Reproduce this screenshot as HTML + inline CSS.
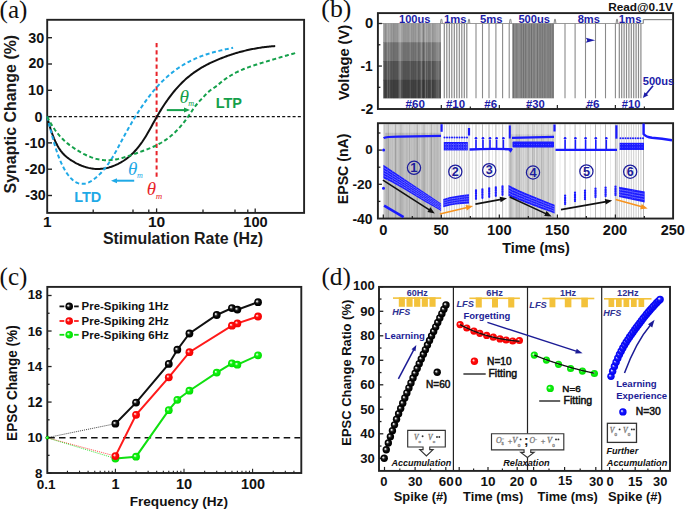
<!DOCTYPE html>
<html><head><meta charset="utf-8"><style>
html,body{margin:0;padding:0;background:#fff;width:685px;height:509px;overflow:hidden}
svg{display:block}
</style></head><body>
<svg xmlns="http://www.w3.org/2000/svg" width="685" height="509" viewBox="0 0 685 509">
<rect width="685" height="509" fill="#fff"/>
<defs>
<pattern id="spk" x="0" y="0" width="2.4" height="2.7" patternUnits="userSpaceOnUse"><circle cx="1.2" cy="1.35" r="0.45" fill="#a8a8ff"/></pattern>
<radialGradient id="gk" cx="0.5" cy="0.5" r="0.5" fx="0.34" fy="0.36"><stop offset="0" stop-color="#f4f4f4"/><stop offset="0.16" stop-color="#cfcfcf"/><stop offset="0.38" stop-color="#2a2a2a"/><stop offset="0.65" stop-color="#050505"/><stop offset="1" stop-color="#000"/></radialGradient>
<radialGradient id="gr" cx="0.5" cy="0.5" r="0.5" fx="0.34" fy="0.36"><stop offset="0" stop-color="#fff0f0"/><stop offset="0.16" stop-color="#ffb8b8"/><stop offset="0.4" stop-color="#ff1010"/><stop offset="1" stop-color="#f40000"/></radialGradient>
<radialGradient id="gg" cx="0.5" cy="0.5" r="0.5" fx="0.34" fy="0.36"><stop offset="0" stop-color="#f0fff0"/><stop offset="0.16" stop-color="#b8ffb8"/><stop offset="0.4" stop-color="#14f014"/><stop offset="1" stop-color="#00e000"/></radialGradient>
<radialGradient id="gb" cx="0.5" cy="0.5" r="0.5" fx="0.34" fy="0.36"><stop offset="0" stop-color="#f0f0ff"/><stop offset="0.16" stop-color="#b8b8ff"/><stop offset="0.4" stop-color="#1818ff"/><stop offset="1" stop-color="#0000ee"/></radialGradient>
</defs>
<text x="-0.43" y="18.14" font-family='"Liberation Serif", serif' font-size="25.38" font-weight="normal" font-style="normal" fill="#111" textLength="27.86" lengthAdjust="spacingAndGlyphs">(a)</text>
<rect x="47.20" y="19.80" width="256.90" height="193.10" fill="none" stroke="#222" stroke-width="1.9" />
<line x1="47.20" y1="37.70" x2="52.00" y2="37.70" stroke="#222" stroke-width="1.4" />
<line x1="47.20" y1="64.00" x2="52.00" y2="64.00" stroke="#222" stroke-width="1.4" />
<line x1="47.20" y1="90.30" x2="52.00" y2="90.30" stroke="#222" stroke-width="1.4" />
<line x1="47.20" y1="116.60" x2="52.00" y2="116.60" stroke="#222" stroke-width="1.4" />
<line x1="47.20" y1="142.90" x2="52.00" y2="142.90" stroke="#222" stroke-width="1.4" />
<line x1="47.20" y1="169.20" x2="52.00" y2="169.20" stroke="#222" stroke-width="1.4" />
<line x1="47.20" y1="195.50" x2="52.00" y2="195.50" stroke="#222" stroke-width="1.4" />
<text x="28.24" y="42.96" font-family='"Liberation Sans", sans-serif' font-size="14.23" font-weight="bold" font-style="normal" fill="#111" textLength="15.97" lengthAdjust="spacingAndGlyphs">30</text>
<text x="28.51" y="68.46" font-family='"Liberation Sans", sans-serif' font-size="13.80" font-weight="bold" font-style="normal" fill="#111" textLength="15.69" lengthAdjust="spacingAndGlyphs">20</text>
<text x="28.04" y="95.36" font-family='"Liberation Sans", sans-serif' font-size="13.94" font-weight="bold" font-style="normal" fill="#111" textLength="15.97" lengthAdjust="spacingAndGlyphs">10</text>
<text x="34.46" y="122.06" font-family='"Liberation Sans", sans-serif' font-size="14.38" font-weight="bold" font-style="normal" fill="#111">0</text>
<text x="24.79" y="147.95" font-family='"Liberation Sans", sans-serif' font-size="14.34" font-weight="bold" font-style="normal" fill="#111">-10</text>
<text x="24.74" y="174.02" font-family='"Liberation Sans", sans-serif' font-size="14.41" font-weight="bold" font-style="normal" fill="#111">-20</text>
<text x="25.22" y="200.01" font-family='"Liberation Sans", sans-serif' font-size="14.23" font-weight="bold" font-style="normal" fill="#111">-30</text>
<line x1="93.20" y1="212.90" x2="93.20" y2="209.40" stroke="#222" stroke-width="1.3" />
<line x1="133.00" y1="212.90" x2="133.00" y2="209.40" stroke="#222" stroke-width="1.3" />
<line x1="148.80" y1="212.90" x2="148.80" y2="209.40" stroke="#222" stroke-width="1.3" />
<line x1="203.00" y1="212.90" x2="203.00" y2="209.40" stroke="#222" stroke-width="1.3" />
<line x1="235.00" y1="212.90" x2="235.00" y2="209.40" stroke="#222" stroke-width="1.3" />
<line x1="247.80" y1="212.90" x2="247.80" y2="209.40" stroke="#222" stroke-width="1.3" />
<line x1="156.60" y1="212.90" x2="156.60" y2="208.40" stroke="#222" stroke-width="1.3" />
<line x1="255.20" y1="212.90" x2="255.20" y2="208.40" stroke="#222" stroke-width="1.3" />
<text x="42.92" y="227.00" font-family='"Liberation Sans", sans-serif' font-size="15.36" font-weight="bold" font-style="normal" fill="#111">1</text>
<text x="147.97" y="227.45" font-family='"Liberation Sans", sans-serif' font-size="15.07" font-weight="bold" font-style="normal" fill="#111" textLength="17.29" lengthAdjust="spacingAndGlyphs">10</text>
<text x="243.32" y="227.45" font-family='"Liberation Sans", sans-serif' font-size="15.07" font-weight="bold" font-style="normal" fill="#111" textLength="24.41" lengthAdjust="spacingAndGlyphs">100</text>
<text x="102.92" y="244.11" font-family='"Liberation Sans", sans-serif' font-size="15.94" font-weight="bold" font-style="normal" fill="#1a1a1a">Stimulation Rate (Hz)</text>
<text x="0" y="0" transform="translate(15.71,193.48) rotate(-90)" font-family='"Liberation Sans", sans-serif' font-size="15.96" font-weight="bold" font-style="normal" fill="#1a1a1a">Synaptic Change (%)</text>
<line x1="48.20" y1="116.60" x2="303.10" y2="116.60" stroke="#111" stroke-width="1.1" stroke-dasharray="3,2.2"/>
<line x1="156.60" y1="43.00" x2="156.60" y2="179.60" stroke="#e8232a" stroke-width="2" stroke-dasharray="4.2,3"/>
<path d="M47.20,116.64 L48.35,121.15 L49.49,125.30 L50.64,129.09 L51.78,132.56 L52.93,135.73 L54.07,138.61 L55.22,141.22 L56.37,143.59 L57.51,145.75 L58.66,147.69 L59.80,149.46 L60.95,151.05 L62.09,152.49 L63.24,153.79 L64.39,154.97 L65.53,156.04 L66.68,157.02 L67.82,157.92 L68.97,158.76 L70.11,159.55 L71.26,160.30 L72.41,161.03 L73.55,161.72 L74.70,162.39 L75.84,163.02 L76.99,163.62 L78.13,164.18 L79.28,164.72 L80.43,165.22 L81.57,165.70 L82.72,166.14 L83.86,166.55 L85.01,166.92 L86.15,167.27 L87.30,167.58 L88.45,167.86 L89.59,168.11 L90.74,168.33 L91.88,168.51 L93.03,168.67 L94.17,168.79 L95.32,168.88 L96.47,168.93 L97.61,168.96 L98.76,168.95 L99.90,168.91 L101.05,168.83 L102.19,168.73 L103.34,168.59 L104.49,168.42 L105.63,168.22 L106.78,167.98 L107.92,167.71 L109.07,167.41 L110.22,167.08 L111.36,166.71 L112.51,166.31 L113.65,165.88 L114.80,165.42 L115.94,164.92 L117.09,164.39 L118.24,163.83 L119.38,163.23 L120.53,162.60 L121.67,161.94 L122.82,161.24 L123.96,160.50 L125.11,159.71 L126.26,158.89 L127.40,158.02 L128.55,157.11 L129.69,156.14 L130.84,155.13 L131.98,154.06 L133.13,152.94 L134.28,151.76 L135.42,150.52 L136.57,149.22 L137.71,147.86 L138.86,146.44 L140.00,144.94 L141.15,143.38 L142.30,141.75 L143.44,140.05 L144.59,138.27 L145.73,136.42 L146.88,134.50 L148.02,132.53 L149.17,130.52 L150.32,128.47 L151.46,126.41 L152.61,124.33 L153.75,122.25 L154.90,120.19 L156.04,118.15 L157.19,116.15 L158.34,114.19 L159.48,112.26 L160.63,110.38 L161.77,108.54 L162.92,106.74 L164.06,104.99 L165.21,103.27 L166.36,101.59 L167.50,99.96 L168.65,98.36 L169.79,96.81 L170.94,95.30 L172.08,93.83 L173.23,92.40 L174.38,91.01 L175.52,89.65 L176.67,88.34 L177.81,87.06 L178.96,85.82 L180.10,84.62 L181.25,83.45 L182.40,82.32 L183.54,81.21 L184.69,80.14 L185.83,79.11 L186.98,78.10 L188.12,77.12 L189.27,76.18 L190.42,75.26 L191.56,74.37 L192.71,73.50 L193.85,72.66 L195.00,71.85 L196.14,71.06 L197.29,70.30 L198.44,69.55 L199.58,68.83 L200.73,68.13 L201.87,67.45 L203.02,66.79 L204.16,66.15 L205.31,65.53 L206.46,64.92 L207.60,64.33 L208.75,63.75 L209.89,63.19 L211.04,62.65 L212.18,62.11 L213.33,61.59 L214.48,61.08 L215.62,60.58 L216.77,60.09 L217.91,59.61 L219.06,59.13 L220.21,58.67 L221.35,58.21 L222.50,57.76 L223.64,57.33 L224.79,56.90 L225.93,56.47 L227.08,56.06 L228.23,55.66 L229.37,55.26 L230.52,54.87 L231.66,54.49 L232.81,54.12 L233.95,53.76 L235.10,53.41 L236.25,53.06 L237.39,52.73 L238.54,52.40 L239.68,52.08 L240.83,51.76 L241.97,51.46 L243.12,51.16 L244.27,50.88 L245.41,50.60 L246.56,50.32 L247.70,50.06 L248.85,49.81 L249.99,49.56 L251.14,49.32 L252.29,49.09 L253.43,48.86 L254.58,48.65 L255.72,48.44 L256.87,48.24 L258.01,48.05 L259.16,47.87 L260.31,47.69 L261.45,47.52 L262.60,47.36 L263.74,47.21 L264.89,47.06 L266.03,46.92 L267.18,46.79 L268.33,46.67 L269.47,46.56 L270.62,46.45 L271.76,46.35 L272.91,46.26 L274.05,46.17 L275.20,46.09" stroke="#111" stroke-width="2.0" fill="none" stroke-linejoin="round"/>
<path d="M47.20,116.59 L48.13,120.23 L49.07,123.89 L50.00,127.53 L50.94,131.13 L51.87,134.68 L52.81,138.14 L53.74,141.51 L54.67,144.74 L55.61,147.84 L56.54,150.76 L57.48,153.51 L58.41,156.10 L59.34,158.53 L60.28,160.80 L61.21,162.94 L62.15,164.94 L63.08,166.81 L64.02,168.56 L64.95,170.19 L65.88,171.72 L66.82,173.15 L67.75,174.48 L68.69,175.72 L69.62,176.85 L70.55,177.90 L71.49,178.85 L72.42,179.71 L73.36,180.49 L74.29,181.18 L75.23,181.79 L76.16,182.31 L77.09,182.76 L78.03,183.12 L78.96,183.41 L79.90,183.63 L80.83,183.77 L81.76,183.85 L82.70,183.85 L83.63,183.79 L84.57,183.67 L85.50,183.48 L86.44,183.23 L87.37,182.92 L88.30,182.56 L89.24,182.14 L90.17,181.66 L91.11,181.14 L92.04,180.57 L92.97,179.95 L93.91,179.28 L94.84,178.57 L95.78,177.82 L96.71,177.03 L97.65,176.20 L98.58,175.33 L99.51,174.41 L100.45,173.46 L101.38,172.46 L102.32,171.42 L103.25,170.34 L104.18,169.22 L105.12,168.05 L106.05,166.84 L106.99,165.59 L107.92,164.30 L108.86,162.96 L109.79,161.58 L110.72,160.16 L111.66,158.69 L112.59,157.18 L113.53,155.62 L114.46,154.02 L115.39,152.38 L116.33,150.70 L117.26,148.99 L118.20,147.26 L119.13,145.51 L120.07,143.75 L121.00,141.99 L121.93,140.23 L122.87,138.49 L123.80,136.75 L124.74,135.04 L125.67,133.33 L126.60,131.65 L127.54,129.98 L128.47,128.32 L129.41,126.68 L130.34,125.06 L131.28,123.46 L132.21,121.87 L133.14,120.30 L134.08,118.75 L135.01,117.21 L135.95,115.70 L136.88,114.20 L137.81,112.72 L138.75,111.26 L139.68,109.82 L140.62,108.40 L141.55,107.00 L142.49,105.62 L143.42,104.26 L144.35,102.92 L145.29,101.60 L146.22,100.31 L147.16,99.03 L148.09,97.78 L149.02,96.55 L149.96,95.34 L150.89,94.15 L151.83,92.98 L152.76,91.84 L153.70,90.72 L154.63,89.62 L155.56,88.54 L156.50,87.48 L157.43,86.44 L158.37,85.42 L159.30,84.42 L160.23,83.44 L161.17,82.48 L162.10,81.54 L163.04,80.62 L163.97,79.72 L164.91,78.84 L165.84,77.97 L166.77,77.13 L167.71,76.30 L168.64,75.48 L169.58,74.69 L170.51,73.91 L171.44,73.15 L172.38,72.41 L173.31,71.68 L174.25,70.97 L175.18,70.27 L176.12,69.59 L177.05,68.92 L177.98,68.27 L178.92,67.64 L179.85,67.02 L180.79,66.41 L181.72,65.82 L182.65,65.24 L183.59,64.67 L184.52,64.12 L185.46,63.58 L186.39,63.06 L187.33,62.54 L188.26,62.04 L189.19,61.56 L190.13,61.08 L191.06,60.61 L192.00,60.16 L192.93,59.72 L193.86,59.29 L194.80,58.86 L195.73,58.45 L196.67,58.05 L197.60,57.66 L198.54,57.28 L199.47,56.91 L200.40,56.55 L201.34,56.19 L202.27,55.85 L203.21,55.51 L204.14,55.19 L205.07,54.86 L206.01,54.55 L206.94,54.25 L207.88,53.95 L208.81,53.66 L209.75,53.37 L210.68,53.10 L211.61,52.82 L212.55,52.56 L213.48,52.30 L214.42,52.04 L215.35,51.80 L216.28,51.55 L217.22,51.31 L218.15,51.08 L219.09,50.85 L220.02,50.62 L220.96,50.40 L221.89,50.18 L222.82,49.96 L223.76,49.75 L224.69,49.54 L225.63,49.33 L226.56,49.12 L227.49,48.92 L228.43,48.72 L229.36,48.52 L230.30,48.32 L231.23,48.12 L232.17,47.92 L233.10,47.73" stroke="#1fa9e6" stroke-width="2.0" fill="none" stroke-dasharray="4,2.6"/>
<path d="M47.20,116.60 L48.45,119.06 L49.70,121.39 L50.94,123.60 L52.19,125.68 L53.44,127.64 L54.69,129.49 L55.94,131.24 L57.19,132.88 L58.43,134.44 L59.68,135.90 L60.93,137.28 L62.18,138.58 L63.43,139.81 L64.68,140.98 L65.92,142.08 L67.17,143.13 L68.42,144.13 L69.67,145.09 L70.92,146.00 L72.16,146.89 L73.41,147.75 L74.66,148.59 L75.91,149.40 L77.16,150.19 L78.41,150.96 L79.65,151.70 L80.90,152.41 L82.15,153.10 L83.40,153.77 L84.65,154.40 L85.90,155.01 L87.14,155.59 L88.39,156.14 L89.64,156.65 L90.89,157.14 L92.14,157.59 L93.38,158.01 L94.63,158.40 L95.88,158.76 L97.13,159.07 L98.38,159.35 L99.63,159.60 L100.87,159.81 L102.12,159.98 L103.37,160.11 L104.62,160.20 L105.87,160.25 L107.12,160.26 L108.36,160.24 L109.61,160.18 L110.86,160.08 L112.11,159.96 L113.36,159.80 L114.61,159.61 L115.85,159.40 L117.10,159.15 L118.35,158.89 L119.60,158.60 L120.85,158.29 L122.09,157.96 L123.34,157.61 L124.59,157.24 L125.84,156.86 L127.09,156.46 L128.34,156.06 L129.58,155.64 L130.83,155.21 L132.08,154.78 L133.33,154.34 L134.58,153.89 L135.83,153.45 L137.07,153.00 L138.32,152.55 L139.57,152.10 L140.82,151.66 L142.07,151.21 L143.31,150.76 L144.56,150.30 L145.81,149.84 L147.06,149.36 L148.31,148.88 L149.56,148.38 L150.80,147.87 L152.05,147.34 L153.30,146.79 L154.55,146.22 L155.80,145.63 L157.05,145.01 L158.29,144.37 L159.54,143.70 L160.79,143.00 L162.04,142.26 L163.29,141.50 L164.53,140.69 L165.78,139.85 L167.03,138.97 L168.28,138.05 L169.53,137.09 L170.78,136.08 L172.02,135.02 L173.27,133.91 L174.52,132.76 L175.77,131.55 L177.02,130.29 L178.27,128.98 L179.51,127.61 L180.76,126.19 L182.01,124.72 L183.26,123.19 L184.51,121.60 L185.75,119.96 L187.00,118.26 L188.25,116.50 L189.50,114.69 L190.75,112.81 L192.00,110.91 L193.24,109.03 L194.49,107.22 L195.74,105.54 L196.99,104.00 L198.24,102.57 L199.49,101.20 L200.73,99.88 L201.98,98.54 L203.23,97.20 L204.48,95.86 L205.73,94.56 L206.97,93.31 L208.22,92.13 L209.47,91.04 L210.72,90.06 L211.97,89.16 L213.22,88.30 L214.46,87.45 L215.71,86.57 L216.96,85.64 L218.21,84.64 L219.46,83.61 L220.71,82.57 L221.95,81.56 L223.20,80.59 L224.45,79.66 L225.70,78.77 L226.95,77.90 L228.19,77.07 L229.44,76.28 L230.69,75.51 L231.94,74.77 L233.19,74.07 L234.44,73.38 L235.68,72.73 L236.93,72.10 L238.18,71.49 L239.43,70.91 L240.68,70.34 L241.93,69.80 L243.17,69.28 L244.42,68.77 L245.67,68.28 L246.92,67.81 L248.17,67.35 L249.42,66.90 L250.66,66.47 L251.91,66.04 L253.16,65.63 L254.41,65.22 L255.66,64.82 L256.90,64.43 L258.15,64.04 L259.40,63.66 L260.65,63.28 L261.90,62.90 L263.15,62.52 L264.39,62.14 L265.64,61.76 L266.89,61.38 L268.14,61.00 L269.39,60.62 L270.64,60.25 L271.88,59.87 L273.13,59.49 L274.38,59.11 L275.63,58.74 L276.88,58.37 L278.12,57.99 L279.37,57.62 L280.62,57.25 L281.87,56.89 L283.12,56.52 L284.37,56.16 L285.61,55.79 L286.86,55.43 L288.11,55.08 L289.36,54.72 L290.61,54.37 L291.86,54.02 L293.10,53.68 L294.35,53.34 L295.60,53.00" stroke="#14a04a" stroke-width="2.0" fill="none" stroke-dasharray="4,2.6"/>
<text x="215.66" y="107.70" font-family='"Liberation Sans", sans-serif' font-size="14.20" font-weight="bold" font-style="normal" fill="#14a04a" textLength="26.27" lengthAdjust="spacingAndGlyphs">LTP</text>
<text x="74.16" y="201.60" font-family='"Liberation Sans", sans-serif' font-size="14.78" font-weight="bold" font-style="normal" fill="#1fa9e6" textLength="27.12" lengthAdjust="spacingAndGlyphs">LTD</text>
<text x="179.52" y="103.17" font-family='"Liberation Serif", serif' font-size="19.33" font-weight="normal" font-style="italic" fill="#14a04a">&#952;</text>
<text x="188.24" y="105.86" font-family='"Liberation Serif", serif' font-size="8.14" font-weight="normal" font-style="italic" fill="#14a04a">m</text>
<text x="127.89" y="174.89" font-family='"Liberation Serif", serif' font-size="19.09" font-weight="normal" font-style="italic" fill="#1fa9e6">&#952;</text>
<text x="136.92" y="177.85" font-family='"Liberation Serif", serif' font-size="8.06" font-weight="normal" font-style="italic" fill="#1fa9e6">m</text>
<text x="146.81" y="195.25" font-family='"Liberation Serif", serif' font-size="18.99" font-weight="normal" font-style="italic" fill="#e8232a">&#952;</text>
<text x="155.69" y="198.70" font-family='"Liberation Serif", serif' font-size="9.15" font-weight="normal" font-style="italic" fill="#e8232a" textLength="6.49" lengthAdjust="spacingAndGlyphs">m</text>
<line x1="166.80" y1="110.10" x2="185.00" y2="110.10" stroke="#14a04a" stroke-width="2" />
<path d="M190.00,110.10 L184.00,112.60 L184.00,107.60 Z" fill="#14a04a"/>
<line x1="134.20" y1="180.70" x2="116.00" y2="180.70" stroke="#1fa9e6" stroke-width="2" />
<path d="M111.00,180.70 L117.00,178.20 L117.00,183.20 Z" fill="#1fa9e6"/>
<text x="321.35" y="17.42" font-family='"Liberation Serif", serif' font-size="25.72" font-weight="normal" font-style="normal" fill="#111">(b)</text>
<line x1="378.90" y1="23.50" x2="643.30" y2="23.50" stroke="#9a9a9a" stroke-width="1.0" />
<line x1="643.30" y1="19.60" x2="672.10" y2="19.60" stroke="#8a8a8a" stroke-width="1.2" />
<line x1="643.30" y1="19.60" x2="643.30" y2="23.50" stroke="#8a8a8a" stroke-width="1.2" />
<rect x="383.40" y="23.60" width="57.60" height="19.20" fill="#9c9c9c" stroke="none" stroke-width="1" />
<rect x="383.40" y="42.20" width="57.60" height="19.40" fill="#767676" stroke="none" stroke-width="1" />
<rect x="383.40" y="61.00" width="57.60" height="19.40" fill="#575757" stroke="none" stroke-width="1" />
<rect x="383.40" y="79.80" width="57.60" height="18.60" fill="#424242" stroke="none" stroke-width="1" />
<rect x="383.40" y="23.60" width="0.60" height="74.80" fill="rgba(0,0,0,0.2)" stroke="none" stroke-width="1" />
<rect x="385.04" y="23.60" width="1.00" height="74.80" fill="rgba(0,0,0,0.1)" stroke="none" stroke-width="1" />
<rect x="386.99" y="23.60" width="0.60" height="74.80" fill="rgba(255,255,255,0.28)" stroke="none" stroke-width="1" />
<rect x="389.29" y="23.60" width="0.80" height="74.80" fill="rgba(255,255,255,0.16)" stroke="none" stroke-width="1" />
<rect x="391.15" y="23.60" width="0.60" height="74.80" fill="rgba(0,0,0,0.1)" stroke="none" stroke-width="1" />
<rect x="393.00" y="23.60" width="1.00" height="74.80" fill="rgba(0,0,0,0.1)" stroke="none" stroke-width="1" />
<rect x="394.67" y="23.60" width="0.60" height="74.80" fill="rgba(0,0,0,0.2)" stroke="none" stroke-width="1" />
<rect x="396.63" y="23.60" width="1.00" height="74.80" fill="rgba(0,0,0,0.1)" stroke="none" stroke-width="1" />
<rect x="398.72" y="23.60" width="1.00" height="74.80" fill="rgba(255,255,255,0.28)" stroke="none" stroke-width="1" />
<rect x="400.11" y="23.60" width="1.00" height="74.80" fill="rgba(255,255,255,0.28)" stroke="none" stroke-width="1" />
<rect x="401.68" y="23.60" width="0.60" height="74.80" fill="rgba(255,255,255,0.16)" stroke="none" stroke-width="1" />
<rect x="403.44" y="23.60" width="1.00" height="74.80" fill="rgba(0,0,0,0.1)" stroke="none" stroke-width="1" />
<rect x="405.50" y="23.60" width="0.80" height="74.80" fill="rgba(0,0,0,0.1)" stroke="none" stroke-width="1" />
<rect x="407.57" y="23.60" width="1.00" height="74.80" fill="rgba(0,0,0,0.1)" stroke="none" stroke-width="1" />
<rect x="409.93" y="23.60" width="0.60" height="74.80" fill="rgba(255,255,255,0.16)" stroke="none" stroke-width="1" />
<rect x="411.25" y="23.60" width="0.60" height="74.80" fill="rgba(0,0,0,0.1)" stroke="none" stroke-width="1" />
<rect x="412.71" y="23.60" width="1.00" height="74.80" fill="rgba(0,0,0,0.1)" stroke="none" stroke-width="1" />
<rect x="414.84" y="23.60" width="0.80" height="74.80" fill="rgba(0,0,0,0.1)" stroke="none" stroke-width="1" />
<rect x="416.65" y="23.60" width="0.80" height="74.80" fill="rgba(255,255,255,0.16)" stroke="none" stroke-width="1" />
<rect x="418.49" y="23.60" width="0.80" height="74.80" fill="rgba(0,0,0,0.2)" stroke="none" stroke-width="1" />
<rect x="420.78" y="23.60" width="1.00" height="74.80" fill="rgba(255,255,255,0.28)" stroke="none" stroke-width="1" />
<rect x="423.01" y="23.60" width="1.00" height="74.80" fill="rgba(0,0,0,0.2)" stroke="none" stroke-width="1" />
<rect x="425.04" y="23.60" width="0.80" height="74.80" fill="rgba(255,255,255,0.28)" stroke="none" stroke-width="1" />
<rect x="427.10" y="23.60" width="0.60" height="74.80" fill="rgba(255,255,255,0.16)" stroke="none" stroke-width="1" />
<rect x="428.64" y="23.60" width="0.60" height="74.80" fill="rgba(0,0,0,0.1)" stroke="none" stroke-width="1" />
<rect x="430.87" y="23.60" width="0.80" height="74.80" fill="rgba(255,255,255,0.28)" stroke="none" stroke-width="1" />
<rect x="432.48" y="23.60" width="0.60" height="74.80" fill="rgba(0,0,0,0.1)" stroke="none" stroke-width="1" />
<rect x="434.76" y="23.60" width="0.60" height="74.80" fill="rgba(255,255,255,0.16)" stroke="none" stroke-width="1" />
<rect x="436.47" y="23.60" width="0.80" height="74.80" fill="rgba(255,255,255,0.28)" stroke="none" stroke-width="1" />
<rect x="437.72" y="23.60" width="1.00" height="74.80" fill="rgba(255,255,255,0.28)" stroke="none" stroke-width="1" />
<rect x="439.38" y="23.60" width="1.00" height="74.80" fill="rgba(255,255,255,0.16)" stroke="none" stroke-width="1" />
<path d="M440.50,23.5 L441.00,19.3 L441.80,19.3 L442.30,23.5" stroke="#8a8a8a" stroke-width="1.0" fill="none" />
<path d="M468.10,23.5 L468.60,19.3 L469.40,19.3 L469.90,23.5" stroke="#8a8a8a" stroke-width="1.0" fill="none" />
<path d="M509.50,23.5 L510.00,19.3 L510.80,19.3 L511.30,23.5" stroke="#8a8a8a" stroke-width="1.0" fill="none" />
<path d="M554.10,23.5 L554.60,19.3 L555.40,19.3 L555.90,23.5" stroke="#8a8a8a" stroke-width="1.0" fill="none" />
<path d="M616.10,23.5 L616.60,19.3 L617.40,19.3 L617.90,23.5" stroke="#8a8a8a" stroke-width="1.0" fill="none" />
<line x1="444.30" y1="23.50" x2="444.30" y2="98.30" stroke="#8a8a8a" stroke-width="1.2" />
<line x1="446.80" y1="23.50" x2="446.80" y2="98.30" stroke="#8a8a8a" stroke-width="1.2" />
<line x1="449.30" y1="23.50" x2="449.30" y2="98.30" stroke="#8a8a8a" stroke-width="1.2" />
<line x1="451.80" y1="23.50" x2="451.80" y2="98.30" stroke="#8a8a8a" stroke-width="1.2" />
<line x1="454.30" y1="23.50" x2="454.30" y2="98.30" stroke="#8a8a8a" stroke-width="1.2" />
<line x1="456.80" y1="23.50" x2="456.80" y2="98.30" stroke="#8a8a8a" stroke-width="1.2" />
<line x1="459.30" y1="23.50" x2="459.30" y2="98.30" stroke="#8a8a8a" stroke-width="1.2" />
<line x1="461.80" y1="23.50" x2="461.80" y2="98.30" stroke="#8a8a8a" stroke-width="1.2" />
<line x1="464.30" y1="23.50" x2="464.30" y2="98.30" stroke="#8a8a8a" stroke-width="1.2" />
<line x1="466.80" y1="23.50" x2="466.80" y2="98.30" stroke="#8a8a8a" stroke-width="1.2" />
<line x1="476.00" y1="23.50" x2="476.00" y2="98.30" stroke="#8a8a8a" stroke-width="1.1" />
<line x1="482.50" y1="23.50" x2="482.50" y2="98.30" stroke="#8a8a8a" stroke-width="1.1" />
<line x1="489.00" y1="23.50" x2="489.00" y2="98.30" stroke="#8a8a8a" stroke-width="1.1" />
<line x1="495.90" y1="23.50" x2="495.90" y2="98.30" stroke="#8a8a8a" stroke-width="1.1" />
<line x1="502.60" y1="23.50" x2="502.60" y2="98.30" stroke="#8a8a8a" stroke-width="1.1" />
<line x1="509.20" y1="23.50" x2="509.20" y2="98.30" stroke="#8a8a8a" stroke-width="1.1" />
<line x1="565.00" y1="23.50" x2="565.00" y2="98.30" stroke="#8a8a8a" stroke-width="1.1" />
<line x1="575.10" y1="23.50" x2="575.10" y2="98.30" stroke="#8a8a8a" stroke-width="1.1" />
<line x1="585.50" y1="23.50" x2="585.50" y2="98.30" stroke="#8a8a8a" stroke-width="1.1" />
<line x1="595.50" y1="23.50" x2="595.50" y2="98.30" stroke="#8a8a8a" stroke-width="1.1" />
<line x1="605.50" y1="23.50" x2="605.50" y2="98.30" stroke="#8a8a8a" stroke-width="1.1" />
<line x1="615.40" y1="23.50" x2="615.40" y2="98.30" stroke="#8a8a8a" stroke-width="1.1" />
<line x1="619.30" y1="23.50" x2="619.30" y2="98.30" stroke="#8a8a8a" stroke-width="1.2" />
<line x1="621.70" y1="23.50" x2="621.70" y2="98.30" stroke="#8a8a8a" stroke-width="1.2" />
<line x1="624.10" y1="23.50" x2="624.10" y2="98.30" stroke="#8a8a8a" stroke-width="1.2" />
<line x1="626.50" y1="23.50" x2="626.50" y2="98.30" stroke="#8a8a8a" stroke-width="1.2" />
<line x1="628.90" y1="23.50" x2="628.90" y2="98.30" stroke="#8a8a8a" stroke-width="1.2" />
<line x1="631.30" y1="23.50" x2="631.30" y2="98.30" stroke="#8a8a8a" stroke-width="1.2" />
<line x1="633.70" y1="23.50" x2="633.70" y2="98.30" stroke="#8a8a8a" stroke-width="1.2" />
<line x1="636.10" y1="23.50" x2="636.10" y2="98.30" stroke="#8a8a8a" stroke-width="1.2" />
<line x1="638.50" y1="23.50" x2="638.50" y2="98.30" stroke="#8a8a8a" stroke-width="1.2" />
<line x1="640.90" y1="23.50" x2="640.90" y2="98.30" stroke="#8a8a8a" stroke-width="1.2" />
<rect x="512.20" y="23.60" width="41.80" height="74.70" fill="#6e6e6e" stroke="none" stroke-width="1" />
<rect x="512.20" y="23.60" width="0.70" height="74.70" fill="rgba(255,255,255,0.3)" stroke="none" stroke-width="1" />
<rect x="514.05" y="23.60" width="0.70" height="74.70" fill="rgba(255,255,255,0.3)" stroke="none" stroke-width="1" />
<rect x="515.44" y="23.60" width="0.70" height="74.70" fill="rgba(255,255,255,0.3)" stroke="none" stroke-width="1" />
<rect x="516.81" y="23.60" width="0.70" height="74.70" fill="rgba(255,255,255,0.3)" stroke="none" stroke-width="1" />
<rect x="518.03" y="23.60" width="0.70" height="74.70" fill="rgba(255,255,255,0.3)" stroke="none" stroke-width="1" />
<rect x="519.24" y="23.60" width="0.70" height="74.70" fill="rgba(255,255,255,0.3)" stroke="none" stroke-width="1" />
<rect x="520.51" y="23.60" width="0.70" height="74.70" fill="rgba(255,255,255,0.3)" stroke="none" stroke-width="1" />
<rect x="522.09" y="23.60" width="0.70" height="74.70" fill="rgba(255,255,255,0.3)" stroke="none" stroke-width="1" />
<rect x="523.95" y="23.60" width="0.70" height="74.70" fill="rgba(255,255,255,0.3)" stroke="none" stroke-width="1" />
<rect x="525.83" y="23.60" width="0.70" height="74.70" fill="rgba(255,255,255,0.3)" stroke="none" stroke-width="1" />
<rect x="527.24" y="23.60" width="0.70" height="74.70" fill="rgba(255,255,255,0.3)" stroke="none" stroke-width="1" />
<rect x="528.62" y="23.60" width="0.70" height="74.70" fill="rgba(255,255,255,0.3)" stroke="none" stroke-width="1" />
<rect x="530.30" y="23.60" width="0.70" height="74.70" fill="rgba(255,255,255,0.3)" stroke="none" stroke-width="1" />
<rect x="532.19" y="23.60" width="0.70" height="74.70" fill="rgba(255,255,255,0.3)" stroke="none" stroke-width="1" />
<rect x="533.63" y="23.60" width="0.70" height="74.70" fill="rgba(255,255,255,0.3)" stroke="none" stroke-width="1" />
<rect x="535.08" y="23.60" width="0.70" height="74.70" fill="rgba(255,255,255,0.3)" stroke="none" stroke-width="1" />
<rect x="536.37" y="23.60" width="0.70" height="74.70" fill="rgba(255,255,255,0.3)" stroke="none" stroke-width="1" />
<rect x="538.18" y="23.60" width="0.70" height="74.70" fill="rgba(255,255,255,0.3)" stroke="none" stroke-width="1" />
<rect x="539.64" y="23.60" width="0.70" height="74.70" fill="rgba(255,255,255,0.3)" stroke="none" stroke-width="1" />
<rect x="541.45" y="23.60" width="0.70" height="74.70" fill="rgba(255,255,255,0.3)" stroke="none" stroke-width="1" />
<rect x="542.92" y="23.60" width="0.70" height="74.70" fill="rgba(255,255,255,0.3)" stroke="none" stroke-width="1" />
<rect x="544.73" y="23.60" width="0.70" height="74.70" fill="rgba(255,255,255,0.3)" stroke="none" stroke-width="1" />
<rect x="546.40" y="23.60" width="0.70" height="74.70" fill="rgba(255,255,255,0.3)" stroke="none" stroke-width="1" />
<rect x="547.68" y="23.60" width="0.70" height="74.70" fill="rgba(255,255,255,0.3)" stroke="none" stroke-width="1" />
<rect x="549.56" y="23.60" width="0.70" height="74.70" fill="rgba(255,255,255,0.3)" stroke="none" stroke-width="1" />
<rect x="551.33" y="23.60" width="0.70" height="74.70" fill="rgba(255,255,255,0.3)" stroke="none" stroke-width="1" />
<rect x="552.72" y="23.60" width="0.70" height="74.70" fill="rgba(255,255,255,0.3)" stroke="none" stroke-width="1" />
<rect x="377.90" y="13.10" width="295.20" height="95.90" fill="none" stroke="#222" stroke-width="1.9" />
<line x1="377.90" y1="23.50" x2="381.90" y2="23.50" stroke="#222" stroke-width="1.3" />
<line x1="377.90" y1="66.05" x2="381.90" y2="66.05" stroke="#222" stroke-width="1.3" />
<line x1="377.90" y1="44.77" x2="380.40" y2="44.77" stroke="#222" stroke-width="1.3" />
<line x1="377.90" y1="87.32" x2="380.40" y2="87.32" stroke="#222" stroke-width="1.3" />
<line x1="412.31" y1="109.00" x2="412.31" y2="106.50" stroke="#222" stroke-width="1.2" />
<line x1="441.32" y1="109.00" x2="441.32" y2="105.00" stroke="#222" stroke-width="1.2" />
<line x1="470.33" y1="109.00" x2="470.33" y2="106.50" stroke="#222" stroke-width="1.2" />
<line x1="499.34" y1="109.00" x2="499.34" y2="105.00" stroke="#222" stroke-width="1.2" />
<line x1="528.35" y1="109.00" x2="528.35" y2="106.50" stroke="#222" stroke-width="1.2" />
<line x1="557.36" y1="109.00" x2="557.36" y2="105.00" stroke="#222" stroke-width="1.2" />
<line x1="586.37" y1="109.00" x2="586.37" y2="106.50" stroke="#222" stroke-width="1.2" />
<line x1="615.38" y1="109.00" x2="615.38" y2="105.00" stroke="#222" stroke-width="1.2" />
<line x1="644.39" y1="109.00" x2="644.39" y2="106.50" stroke="#222" stroke-width="1.2" />
<text x="365.11" y="28.16" font-family='"Liberation Sans", sans-serif' font-size="14.23" font-weight="bold" font-style="normal" fill="#111" textLength="8.20" lengthAdjust="spacingAndGlyphs">0</text>
<text x="360.44" y="71.04" font-family='"Liberation Sans", sans-serif' font-size="13.73" font-weight="bold" font-style="normal" fill="#111">-1</text>
<text x="360.74" y="113.70" font-family='"Liberation Sans", sans-serif' font-size="13.86" font-weight="bold" font-style="normal" fill="#111" textLength="12.51" lengthAdjust="spacingAndGlyphs">-2</text>
<text x="399.04" y="22.89" font-family='"Liberation Sans", sans-serif' font-size="11.41" font-weight="bold" font-style="normal" fill="#1c1ca8" textLength="31.41" lengthAdjust="spacingAndGlyphs">100us</text>
<text x="443.92" y="22.88" font-family='"Liberation Sans", sans-serif' font-size="11.57" font-weight="bold" font-style="normal" fill="#1c1ca8" textLength="22.54" lengthAdjust="spacingAndGlyphs">1ms</text>
<text x="480.00" y="22.89" font-family='"Liberation Sans", sans-serif' font-size="11.30" font-weight="bold" font-style="normal" fill="#1c1ca8">5ms</text>
<text x="518.40" y="22.89" font-family='"Liberation Sans", sans-serif' font-size="11.15" font-weight="bold" font-style="normal" fill="#1c1ca8">500us</text>
<text x="577.67" y="22.89" font-family='"Liberation Sans", sans-serif' font-size="11.41" font-weight="bold" font-style="normal" fill="#1c1ca8" textLength="22.19" lengthAdjust="spacingAndGlyphs">8ms</text>
<text x="618.85" y="22.89" font-family='"Liberation Sans", sans-serif' font-size="11.29" font-weight="bold" font-style="normal" fill="#1c1ca8">1ms</text>
<text x="405.63" y="107.98" font-family='"Liberation Sans", sans-serif' font-size="11.55" font-weight="bold" font-style="normal" fill="#1c1ca8" textLength="19.38" lengthAdjust="spacingAndGlyphs">#60</text>
<text x="445.93" y="107.98" font-family='"Liberation Sans", sans-serif' font-size="11.55" font-weight="bold" font-style="normal" fill="#1c1ca8" textLength="19.07" lengthAdjust="spacingAndGlyphs">#10</text>
<text x="484.23" y="107.98" font-family='"Liberation Sans", sans-serif' font-size="11.55" font-weight="bold" font-style="normal" fill="#1c1ca8">#6</text>
<text x="525.93" y="107.98" font-family='"Liberation Sans", sans-serif' font-size="11.55" font-weight="bold" font-style="normal" fill="#1c1ca8" textLength="18.76" lengthAdjust="spacingAndGlyphs">#30</text>
<text x="586.42" y="107.98" font-family='"Liberation Sans", sans-serif' font-size="11.55" font-weight="bold" font-style="normal" fill="#1c1ca8" textLength="13.01" lengthAdjust="spacingAndGlyphs">#6</text>
<text x="621.83" y="107.98" font-family='"Liberation Sans", sans-serif' font-size="11.55" font-weight="bold" font-style="normal" fill="#1c1ca8" textLength="18.55" lengthAdjust="spacingAndGlyphs">#10</text>
<text x="608.23" y="10.86" font-family='"Liberation Sans", sans-serif' font-size="11.80" font-weight="bold" font-style="normal" fill="#111">Read@0.1V</text>
<text x="642.72" y="84.59" font-family='"Liberation Sans", sans-serif' font-size="11.14" font-weight="bold" font-style="normal" fill="#1c1ca8">500us</text>
<line x1="653.00" y1="85.80" x2="645.77" y2="94.53" stroke="#1c1ca8" stroke-width="1.6" />
<path d="M642.90,98.00 L644.48,92.17 L648.33,95.36 Z" fill="#1c1ca8"/>
<path d="M585.8,37.7 L595.3,40.2 L585.8,42.7 L587.3,40.2 Z" fill="#1c1ca8"/>
<text x="0" y="0" transform="translate(348.62,100.27) rotate(-90)" font-family='"Liberation Sans", sans-serif' font-size="14.65" font-weight="bold" font-style="normal" fill="#111">Voltage (V)</text>
<rect x="383.40" y="124.30" width="57.60" height="94.25" fill="#bdbdbd" stroke="none" stroke-width="1" />
<rect x="383.40" y="124.30" width="1.20" height="94.25" fill="rgba(255,255,255,0.25)" stroke="none" stroke-width="1" />
<rect x="385.92" y="124.30" width="0.90" height="94.25" fill="rgba(0,0,0,0.07)" stroke="none" stroke-width="1" />
<rect x="387.95" y="124.30" width="1.20" height="94.25" fill="rgba(0,0,0,0.07)" stroke="none" stroke-width="1" />
<rect x="389.36" y="124.30" width="0.90" height="94.25" fill="rgba(255,255,255,0.12)" stroke="none" stroke-width="1" />
<rect x="391.14" y="124.30" width="0.90" height="94.25" fill="rgba(255,255,255,0.12)" stroke="none" stroke-width="1" />
<rect x="393.25" y="124.30" width="0.60" height="94.25" fill="rgba(255,255,255,0.25)" stroke="none" stroke-width="1" />
<rect x="395.41" y="124.30" width="0.90" height="94.25" fill="rgba(0,0,0,0.07)" stroke="none" stroke-width="1" />
<rect x="397.23" y="124.30" width="0.90" height="94.25" fill="rgba(255,255,255,0.12)" stroke="none" stroke-width="1" />
<rect x="399.48" y="124.30" width="1.20" height="94.25" fill="rgba(0,0,0,0.07)" stroke="none" stroke-width="1" />
<rect x="400.91" y="124.30" width="0.60" height="94.25" fill="rgba(255,255,255,0.12)" stroke="none" stroke-width="1" />
<rect x="402.33" y="124.30" width="0.90" height="94.25" fill="rgba(0,0,0,0.07)" stroke="none" stroke-width="1" />
<rect x="404.49" y="124.30" width="0.90" height="94.25" fill="rgba(255,255,255,0.12)" stroke="none" stroke-width="1" />
<rect x="406.61" y="124.30" width="0.60" height="94.25" fill="rgba(0,0,0,0.07)" stroke="none" stroke-width="1" />
<rect x="408.23" y="124.30" width="0.90" height="94.25" fill="rgba(255,255,255,0.12)" stroke="none" stroke-width="1" />
<rect x="409.95" y="124.30" width="0.90" height="94.25" fill="rgba(255,255,255,0.25)" stroke="none" stroke-width="1" />
<rect x="412.27" y="124.30" width="0.60" height="94.25" fill="rgba(255,255,255,0.12)" stroke="none" stroke-width="1" />
<rect x="414.49" y="124.30" width="0.60" height="94.25" fill="rgba(0,0,0,0.07)" stroke="none" stroke-width="1" />
<rect x="416.49" y="124.30" width="1.20" height="94.25" fill="rgba(0,0,0,0.07)" stroke="none" stroke-width="1" />
<rect x="418.18" y="124.30" width="0.60" height="94.25" fill="rgba(255,255,255,0.12)" stroke="none" stroke-width="1" />
<rect x="420.10" y="124.30" width="1.20" height="94.25" fill="rgba(255,255,255,0.25)" stroke="none" stroke-width="1" />
<rect x="421.62" y="124.30" width="0.90" height="94.25" fill="rgba(0,0,0,0.07)" stroke="none" stroke-width="1" />
<rect x="423.83" y="124.30" width="0.60" height="94.25" fill="rgba(0,0,0,0.07)" stroke="none" stroke-width="1" />
<rect x="426.21" y="124.30" width="0.60" height="94.25" fill="rgba(255,255,255,0.25)" stroke="none" stroke-width="1" />
<rect x="428.01" y="124.30" width="1.20" height="94.25" fill="rgba(255,255,255,0.25)" stroke="none" stroke-width="1" />
<rect x="430.47" y="124.30" width="0.90" height="94.25" fill="rgba(0,0,0,0.07)" stroke="none" stroke-width="1" />
<rect x="432.14" y="124.30" width="0.60" height="94.25" fill="rgba(255,255,255,0.25)" stroke="none" stroke-width="1" />
<rect x="434.18" y="124.30" width="0.60" height="94.25" fill="rgba(0,0,0,0.07)" stroke="none" stroke-width="1" />
<rect x="436.55" y="124.30" width="1.20" height="94.25" fill="rgba(255,255,255,0.25)" stroke="none" stroke-width="1" />
<rect x="438.98" y="124.30" width="0.90" height="94.25" fill="rgba(255,255,255,0.12)" stroke="none" stroke-width="1" />
<rect x="440.49" y="124.30" width="1.20" height="94.25" fill="rgba(0,0,0,0.07)" stroke="none" stroke-width="1" />
<rect x="385.00" y="124.30" width="56.00" height="8.50" fill="rgba(255,255,255,0.35)" stroke="none" stroke-width="1" />
<line x1="388.20" y1="124.30" x2="388.20" y2="218.55" stroke="rgba(90,90,90,0.35)" stroke-width="0.7" />
<line x1="395.50" y1="124.30" x2="395.50" y2="218.55" stroke="rgba(90,90,90,0.35)" stroke-width="0.7" />
<line x1="401.10" y1="124.30" x2="401.10" y2="218.55" stroke="rgba(90,90,90,0.35)" stroke-width="0.7" />
<line x1="409.80" y1="124.30" x2="409.80" y2="218.55" stroke="rgba(90,90,90,0.35)" stroke-width="0.7" />
<line x1="417.30" y1="124.30" x2="417.30" y2="218.55" stroke="rgba(90,90,90,0.35)" stroke-width="0.7" />
<line x1="424.00" y1="124.30" x2="424.00" y2="218.55" stroke="rgba(90,90,90,0.35)" stroke-width="0.7" />
<line x1="431.60" y1="124.30" x2="431.60" y2="218.55" stroke="rgba(90,90,90,0.35)" stroke-width="0.7" />
<line x1="437.20" y1="124.30" x2="437.20" y2="218.55" stroke="rgba(90,90,90,0.35)" stroke-width="0.7" />
<rect x="509.70" y="124.30" width="44.30" height="94.25" fill="#c8c8c8" stroke="none" stroke-width="1" />
<rect x="509.70" y="124.30" width="0.80" height="94.25" fill="rgba(255,255,255,0.3)" stroke="none" stroke-width="1" />
<rect x="511.31" y="124.30" width="0.80" height="94.25" fill="rgba(0,0,0,0.06)" stroke="none" stroke-width="1" />
<rect x="512.79" y="124.30" width="0.80" height="94.25" fill="rgba(255,255,255,0.3)" stroke="none" stroke-width="1" />
<rect x="514.33" y="124.30" width="0.80" height="94.25" fill="rgba(255,255,255,0.45)" stroke="none" stroke-width="1" />
<rect x="516.26" y="124.30" width="0.60" height="94.25" fill="rgba(0,0,0,0.12)" stroke="none" stroke-width="1" />
<rect x="517.47" y="124.30" width="1.00" height="94.25" fill="rgba(0,0,0,0.06)" stroke="none" stroke-width="1" />
<rect x="519.11" y="124.30" width="1.00" height="94.25" fill="rgba(0,0,0,0.12)" stroke="none" stroke-width="1" />
<rect x="520.34" y="124.30" width="0.80" height="94.25" fill="rgba(255,255,255,0.3)" stroke="none" stroke-width="1" />
<rect x="521.98" y="124.30" width="0.60" height="94.25" fill="rgba(255,255,255,0.45)" stroke="none" stroke-width="1" />
<rect x="523.86" y="124.30" width="0.80" height="94.25" fill="rgba(255,255,255,0.45)" stroke="none" stroke-width="1" />
<rect x="525.71" y="124.30" width="0.60" height="94.25" fill="rgba(255,255,255,0.45)" stroke="none" stroke-width="1" />
<rect x="527.63" y="124.30" width="1.00" height="94.25" fill="rgba(0,0,0,0.12)" stroke="none" stroke-width="1" />
<rect x="529.55" y="124.30" width="0.80" height="94.25" fill="rgba(255,255,255,0.45)" stroke="none" stroke-width="1" />
<rect x="530.76" y="124.30" width="1.00" height="94.25" fill="rgba(255,255,255,0.45)" stroke="none" stroke-width="1" />
<rect x="532.10" y="124.30" width="0.80" height="94.25" fill="rgba(0,0,0,0.12)" stroke="none" stroke-width="1" />
<rect x="533.83" y="124.30" width="1.00" height="94.25" fill="rgba(0,0,0,0.06)" stroke="none" stroke-width="1" />
<rect x="535.07" y="124.30" width="1.00" height="94.25" fill="rgba(255,255,255,0.45)" stroke="none" stroke-width="1" />
<rect x="536.54" y="124.30" width="0.80" height="94.25" fill="rgba(0,0,0,0.06)" stroke="none" stroke-width="1" />
<rect x="538.39" y="124.30" width="0.60" height="94.25" fill="rgba(255,255,255,0.3)" stroke="none" stroke-width="1" />
<rect x="539.77" y="124.30" width="0.60" height="94.25" fill="rgba(255,255,255,0.45)" stroke="none" stroke-width="1" />
<rect x="541.11" y="124.30" width="0.80" height="94.25" fill="rgba(0,0,0,0.12)" stroke="none" stroke-width="1" />
<rect x="542.97" y="124.30" width="0.60" height="94.25" fill="rgba(0,0,0,0.06)" stroke="none" stroke-width="1" />
<rect x="544.67" y="124.30" width="0.80" height="94.25" fill="rgba(255,255,255,0.45)" stroke="none" stroke-width="1" />
<rect x="546.47" y="124.30" width="0.60" height="94.25" fill="rgba(255,255,255,0.3)" stroke="none" stroke-width="1" />
<rect x="548.17" y="124.30" width="1.00" height="94.25" fill="rgba(0,0,0,0.06)" stroke="none" stroke-width="1" />
<rect x="549.41" y="124.30" width="0.80" height="94.25" fill="rgba(255,255,255,0.45)" stroke="none" stroke-width="1" />
<rect x="551.30" y="124.30" width="0.60" height="94.25" fill="rgba(255,255,255,0.45)" stroke="none" stroke-width="1" />
<rect x="552.59" y="124.30" width="0.60" height="94.25" fill="rgba(0,0,0,0.06)" stroke="none" stroke-width="1" />
<rect x="511.00" y="124.30" width="43.00" height="10.00" fill="rgba(255,255,255,0.3)" stroke="none" stroke-width="1" />
<line x1="444.30" y1="124.30" x2="444.30" y2="218.55" stroke="#cacaca" stroke-width="0.9" />
<line x1="446.80" y1="124.30" x2="446.80" y2="218.55" stroke="#cacaca" stroke-width="0.9" />
<line x1="449.30" y1="124.30" x2="449.30" y2="218.55" stroke="#cacaca" stroke-width="0.9" />
<line x1="451.80" y1="124.30" x2="451.80" y2="218.55" stroke="#cacaca" stroke-width="0.9" />
<line x1="454.30" y1="124.30" x2="454.30" y2="218.55" stroke="#cacaca" stroke-width="0.9" />
<line x1="456.80" y1="124.30" x2="456.80" y2="218.55" stroke="#cacaca" stroke-width="0.9" />
<line x1="459.30" y1="124.30" x2="459.30" y2="218.55" stroke="#cacaca" stroke-width="0.9" />
<line x1="461.80" y1="124.30" x2="461.80" y2="218.55" stroke="#cacaca" stroke-width="0.9" />
<line x1="464.30" y1="124.30" x2="464.30" y2="218.55" stroke="#cacaca" stroke-width="0.9" />
<line x1="466.80" y1="124.30" x2="466.80" y2="218.55" stroke="#cacaca" stroke-width="0.9" />
<line x1="619.30" y1="124.30" x2="619.30" y2="218.55" stroke="#cacaca" stroke-width="0.9" />
<line x1="621.70" y1="124.30" x2="621.70" y2="218.55" stroke="#cacaca" stroke-width="0.9" />
<line x1="624.10" y1="124.30" x2="624.10" y2="218.55" stroke="#cacaca" stroke-width="0.9" />
<line x1="626.50" y1="124.30" x2="626.50" y2="218.55" stroke="#cacaca" stroke-width="0.9" />
<line x1="628.90" y1="124.30" x2="628.90" y2="218.55" stroke="#cacaca" stroke-width="0.9" />
<line x1="631.30" y1="124.30" x2="631.30" y2="218.55" stroke="#cacaca" stroke-width="0.9" />
<line x1="633.70" y1="124.30" x2="633.70" y2="218.55" stroke="#cacaca" stroke-width="0.9" />
<line x1="636.10" y1="124.30" x2="636.10" y2="218.55" stroke="#cacaca" stroke-width="0.9" />
<line x1="638.50" y1="124.30" x2="638.50" y2="218.55" stroke="#cacaca" stroke-width="0.9" />
<line x1="640.90" y1="124.30" x2="640.90" y2="218.55" stroke="#cacaca" stroke-width="0.9" />
<line x1="469.00" y1="124.30" x2="469.00" y2="218.55" stroke="#b0b0b0" stroke-width="0.9" />
<line x1="510.40" y1="124.30" x2="510.40" y2="218.55" stroke="#b0b0b0" stroke-width="0.9" />
<line x1="555.00" y1="124.30" x2="555.00" y2="218.55" stroke="#b0b0b0" stroke-width="0.9" />
<line x1="617.00" y1="124.30" x2="617.00" y2="218.55" stroke="#b0b0b0" stroke-width="0.9" />
<line x1="643.50" y1="124.30" x2="643.50" y2="218.55" stroke="#b0b0b0" stroke-width="0.9" />
<line x1="476.00" y1="124.30" x2="476.00" y2="218.55" stroke="#b0b0b0" stroke-width="0.9" />
<line x1="482.50" y1="124.30" x2="482.50" y2="218.55" stroke="#b0b0b0" stroke-width="0.9" />
<line x1="489.00" y1="124.30" x2="489.00" y2="218.55" stroke="#b0b0b0" stroke-width="0.9" />
<line x1="495.90" y1="124.30" x2="495.90" y2="218.55" stroke="#b0b0b0" stroke-width="0.9" />
<line x1="502.60" y1="124.30" x2="502.60" y2="218.55" stroke="#b0b0b0" stroke-width="0.9" />
<line x1="509.20" y1="124.30" x2="509.20" y2="218.55" stroke="#b0b0b0" stroke-width="0.9" />
<line x1="565.00" y1="124.30" x2="565.00" y2="218.55" stroke="#b0b0b0" stroke-width="0.9" />
<line x1="575.10" y1="124.30" x2="575.10" y2="218.55" stroke="#b0b0b0" stroke-width="0.9" />
<line x1="585.50" y1="124.30" x2="585.50" y2="218.55" stroke="#b0b0b0" stroke-width="0.9" />
<line x1="595.50" y1="124.30" x2="595.50" y2="218.55" stroke="#b0b0b0" stroke-width="0.9" />
<line x1="605.50" y1="124.30" x2="605.50" y2="218.55" stroke="#b0b0b0" stroke-width="0.9" />
<line x1="615.40" y1="124.30" x2="615.40" y2="218.55" stroke="#b0b0b0" stroke-width="0.9" />
<line x1="472.50" y1="124.30" x2="472.50" y2="218.55" stroke="#e4e4e4" stroke-width="0.8" />
<line x1="479.00" y1="124.30" x2="479.00" y2="218.55" stroke="#e4e4e4" stroke-width="0.8" />
<line x1="486.00" y1="124.30" x2="486.00" y2="218.55" stroke="#e4e4e4" stroke-width="0.8" />
<line x1="492.50" y1="124.30" x2="492.50" y2="218.55" stroke="#e4e4e4" stroke-width="0.8" />
<line x1="499.00" y1="124.30" x2="499.00" y2="218.55" stroke="#e4e4e4" stroke-width="0.8" />
<line x1="506.00" y1="124.30" x2="506.00" y2="218.55" stroke="#e4e4e4" stroke-width="0.8" />
<line x1="560.00" y1="124.30" x2="560.00" y2="218.55" stroke="#e4e4e4" stroke-width="0.8" />
<line x1="570.00" y1="124.30" x2="570.00" y2="218.55" stroke="#e4e4e4" stroke-width="0.8" />
<line x1="580.00" y1="124.30" x2="580.00" y2="218.55" stroke="#e4e4e4" stroke-width="0.8" />
<line x1="590.50" y1="124.30" x2="590.50" y2="218.55" stroke="#e4e4e4" stroke-width="0.8" />
<line x1="600.50" y1="124.30" x2="600.50" y2="218.55" stroke="#e4e4e4" stroke-width="0.8" />
<line x1="610.50" y1="124.30" x2="610.50" y2="218.55" stroke="#e4e4e4" stroke-width="0.8" />
<rect x="377.90" y="123.20" width="295.20" height="95.35" fill="none" stroke="#222" stroke-width="1.9" />
<line x1="377.90" y1="150.10" x2="381.90" y2="150.10" stroke="#222" stroke-width="1.3" />
<line x1="377.90" y1="184.30" x2="381.90" y2="184.30" stroke="#222" stroke-width="1.3" />
<line x1="377.90" y1="133.00" x2="380.40" y2="133.00" stroke="#222" stroke-width="1.3" />
<line x1="377.90" y1="167.20" x2="380.40" y2="167.20" stroke="#222" stroke-width="1.3" />
<line x1="377.90" y1="201.40" x2="380.40" y2="201.40" stroke="#222" stroke-width="1.3" />
<line x1="383.30" y1="218.55" x2="383.30" y2="214.55" stroke="#222" stroke-width="1.2" />
<line x1="412.31" y1="218.55" x2="412.31" y2="216.05" stroke="#222" stroke-width="1.2" />
<line x1="441.32" y1="218.55" x2="441.32" y2="214.55" stroke="#222" stroke-width="1.2" />
<line x1="470.33" y1="218.55" x2="470.33" y2="216.05" stroke="#222" stroke-width="1.2" />
<line x1="499.34" y1="218.55" x2="499.34" y2="214.55" stroke="#222" stroke-width="1.2" />
<line x1="528.35" y1="218.55" x2="528.35" y2="216.05" stroke="#222" stroke-width="1.2" />
<line x1="557.36" y1="218.55" x2="557.36" y2="214.55" stroke="#222" stroke-width="1.2" />
<line x1="586.37" y1="218.55" x2="586.37" y2="216.05" stroke="#222" stroke-width="1.2" />
<line x1="615.38" y1="218.55" x2="615.38" y2="214.55" stroke="#222" stroke-width="1.2" />
<line x1="644.39" y1="218.55" x2="644.39" y2="216.05" stroke="#222" stroke-width="1.2" />
<text x="365.17" y="154.33" font-family='"Liberation Sans", sans-serif' font-size="13.43" font-weight="bold" font-style="normal" fill="#111">0</text>
<text x="352.45" y="189.46" font-family='"Liberation Sans", sans-serif' font-size="13.66" font-weight="bold" font-style="normal" fill="#111">-20</text>
<text x="352.44" y="223.56" font-family='"Liberation Sans", sans-serif' font-size="13.94" font-weight="bold" font-style="normal" fill="#111">-40</text>
<text x="379.21" y="235.16" font-family='"Liberation Sans", sans-serif' font-size="14.37" font-weight="bold" font-style="normal" fill="#111" textLength="8.20" lengthAdjust="spacingAndGlyphs">0</text>
<text x="433.38" y="235.16" font-family='"Liberation Sans", sans-serif' font-size="14.37" font-weight="bold" font-style="normal" fill="#111" textLength="15.51" lengthAdjust="spacingAndGlyphs">50</text>
<text x="487.12" y="235.16" font-family='"Liberation Sans", sans-serif' font-size="14.37" font-weight="bold" font-style="normal" fill="#111" textLength="24.41" lengthAdjust="spacingAndGlyphs">100</text>
<text x="545.12" y="235.16" font-family='"Liberation Sans", sans-serif' font-size="14.37" font-weight="bold" font-style="normal" fill="#111" textLength="24.41" lengthAdjust="spacingAndGlyphs">150</text>
<text x="602.79" y="235.16" font-family='"Liberation Sans", sans-serif' font-size="14.37" font-weight="bold" font-style="normal" fill="#111" textLength="24.45" lengthAdjust="spacingAndGlyphs">200</text>
<text x="660.69" y="235.16" font-family='"Liberation Sans", sans-serif' font-size="14.37" font-weight="bold" font-style="normal" fill="#111" textLength="24.24" lengthAdjust="spacingAndGlyphs">250</text>
<text x="502.26" y="253.15" font-family='"Liberation Sans", sans-serif' font-size="14.38" font-weight="bold" font-style="normal" fill="#111">Time (ms)</text>
<text x="0" y="0" transform="translate(348.38,204.22) rotate(-90)" font-family='"Liberation Sans", sans-serif' font-size="13.90" font-weight="bold" font-style="normal" fill="#111" textLength="70.73" lengthAdjust="spacingAndGlyphs">EPSC (nA)</text>
<path d="M383.6,138.2 Q386,136.5 400,136.6 L441,135.8" stroke="#1a1aff" stroke-width="2.2" fill="none" />
<circle cx="383.60" cy="150.10" r="1.5" fill="#1a1aff"/>
<circle cx="383.50" cy="188.20" r="1.5" fill="#1a1aff"/>
<path d="M383.40,164.70 L391.20,169.93 L402.40,177.44 L413.60,184.96 L424.80,192.47 L436.00,199.98 L441.10,203.40 L441.10,210.90 L436.00,207.90 L424.80,201.70 L413.60,195.00 L402.40,188.30 L391.20,182.10 L383.40,178.20 Z" fill="#1a1aff"/>
<path d="M383.40,164.70 L391.20,169.93 L402.40,177.44 L413.60,184.96 L424.80,192.47 L436.00,199.98 L441.10,203.40 L441.10,210.90 L436.00,207.90 L424.80,201.70 L413.60,195.00 L402.40,188.30 L391.20,182.10 L383.40,178.20 Z" fill="url(#spk)" opacity="0.45"/>
<path d="M383.40,167.40 L391.20,172.37 L402.40,179.61 L413.60,186.96 L424.80,194.31 L436.00,201.56 L441.10,204.90" stroke="rgba(190,190,255,0.75)" stroke-width="0.55" fill="none" />
<path d="M383.40,170.10 L391.20,174.80 L402.40,181.79 L413.60,188.97 L424.80,196.16 L436.00,203.15 L441.10,206.40" stroke="rgba(190,190,255,0.75)" stroke-width="0.55" fill="none" />
<path d="M383.40,172.80 L391.20,177.23 L402.40,183.96 L413.60,190.98 L424.80,198.01 L436.00,204.73 L441.10,207.90" stroke="rgba(190,190,255,0.75)" stroke-width="0.55" fill="none" />
<path d="M383.40,175.50 L391.20,179.67 L402.40,186.13 L413.60,192.99 L424.80,199.85 L436.00,206.32 L441.10,209.40" stroke="rgba(190,190,255,0.75)" stroke-width="0.55" fill="none" />
<path d="M384.1,205.7 L403.6,217.2" stroke="#1a1aff" stroke-width="2.6" fill="none" />
<path d="M441.6,124.2 L441.6,131.8" stroke="#1a1aff" stroke-width="2.2" fill="none" />
<circle cx="444.50" cy="137.60" r="1.0" fill="#1a1aff"/>
<circle cx="447.00" cy="137.60" r="1.0" fill="#1a1aff"/>
<circle cx="449.50" cy="137.60" r="1.0" fill="#1a1aff"/>
<circle cx="452.00" cy="137.60" r="1.0" fill="#1a1aff"/>
<circle cx="454.50" cy="137.60" r="1.0" fill="#1a1aff"/>
<circle cx="457.00" cy="137.60" r="1.0" fill="#1a1aff"/>
<circle cx="459.50" cy="137.60" r="1.0" fill="#1a1aff"/>
<circle cx="462.00" cy="137.60" r="1.0" fill="#1a1aff"/>
<circle cx="464.50" cy="137.60" r="1.0" fill="#1a1aff"/>
<circle cx="467.00" cy="137.60" r="1.0" fill="#1a1aff"/>
<rect x="443.8" y="142.0" width="24" height="8.4" fill="#1a1aff"/>
<rect x="444.3" y="142.6" width="23" height="7.4" fill="url(#spk)" opacity="0.8"/>
<line x1="446.00" y1="143.00" x2="446.00" y2="149.50" stroke="rgba(200,200,255,0.6)" stroke-width="0.5" />
<line x1="448.50" y1="143.00" x2="448.50" y2="149.50" stroke="rgba(200,200,255,0.6)" stroke-width="0.5" />
<line x1="451.00" y1="143.00" x2="451.00" y2="149.50" stroke="rgba(200,200,255,0.6)" stroke-width="0.5" />
<line x1="453.50" y1="143.00" x2="453.50" y2="149.50" stroke="rgba(200,200,255,0.6)" stroke-width="0.5" />
<line x1="456.00" y1="143.00" x2="456.00" y2="149.50" stroke="rgba(200,200,255,0.6)" stroke-width="0.5" />
<line x1="458.50" y1="143.00" x2="458.50" y2="149.50" stroke="rgba(200,200,255,0.6)" stroke-width="0.5" />
<line x1="461.00" y1="143.00" x2="461.00" y2="149.50" stroke="rgba(200,200,255,0.6)" stroke-width="0.5" />
<line x1="463.50" y1="143.00" x2="463.50" y2="149.50" stroke="rgba(200,200,255,0.6)" stroke-width="0.5" />
<line x1="466.00" y1="143.00" x2="466.00" y2="149.50" stroke="rgba(200,200,255,0.6)" stroke-width="0.5" />
<line x1="468.50" y1="143.00" x2="468.50" y2="149.50" stroke="rgba(200,200,255,0.6)" stroke-width="0.5" />
<path d="M443.30,199.00 L450.00,197.00 L456.00,195.90 L462.00,195.00 L469.00,194.20 L469.00,203.40 L462.00,203.90 L456.00,204.60 L450.00,205.60 L443.30,207.20 Z" fill="#1a1aff"/>
<path d="M443.30,199.00 L450.00,197.00 L456.00,195.90 L462.00,195.00 L469.00,194.20 L469.00,203.40 L462.00,203.90 L456.00,204.60 L450.00,205.60 L443.30,207.20 Z" fill="url(#spk)" opacity="0.45"/>
<path d="M443.30,201.05 L450.00,199.15 L456.00,198.07 L462.00,197.22 L469.00,196.50" stroke="rgba(190,190,255,0.75)" stroke-width="0.55" fill="none" />
<path d="M443.30,203.10 L450.00,201.30 L456.00,200.25 L462.00,199.45 L469.00,198.80" stroke="rgba(190,190,255,0.75)" stroke-width="0.55" fill="none" />
<path d="M443.30,205.15 L450.00,203.45 L456.00,202.43 L462.00,201.68 L469.00,201.10" stroke="rgba(190,190,255,0.75)" stroke-width="0.55" fill="none" />
<path d="M469,128 L469,135.5" stroke="#1a1aff" stroke-width="2.2" fill="none" />
<path d="M469.5,149.5 Q490,148.3 512,149.3" stroke="#1a1aff" stroke-width="2.3" fill="none" />
<circle cx="476.00" cy="138.30" r="1.3" fill="#1a1aff"/>
<line x1="476.00" y1="140.00" x2="476.00" y2="149.00" stroke="#1a1aff" stroke-width="1.6" />
<circle cx="483.00" cy="138.30" r="1.3" fill="#1a1aff"/>
<line x1="483.00" y1="140.00" x2="483.00" y2="149.00" stroke="#1a1aff" stroke-width="1.6" />
<circle cx="490.00" cy="138.30" r="1.3" fill="#1a1aff"/>
<line x1="490.00" y1="140.00" x2="490.00" y2="149.00" stroke="#1a1aff" stroke-width="1.6" />
<circle cx="496.60" cy="138.30" r="1.3" fill="#1a1aff"/>
<line x1="496.60" y1="140.00" x2="496.60" y2="149.00" stroke="#1a1aff" stroke-width="1.6" />
<circle cx="503.40" cy="138.30" r="1.3" fill="#1a1aff"/>
<line x1="503.40" y1="140.00" x2="503.40" y2="149.00" stroke="#1a1aff" stroke-width="1.6" />
<path d="M509.8,125.5 L509.8,138.5" stroke="#1a1aff" stroke-width="2.0" fill="none" />
<circle cx="476.00" cy="190.30" r="1.15" fill="#1a1aff"/>
<circle cx="476.00" cy="192.00" r="1.15" fill="#1a1aff"/>
<circle cx="476.00" cy="193.70" r="1.15" fill="#1a1aff"/>
<circle cx="476.00" cy="195.40" r="1.15" fill="#1a1aff"/>
<circle cx="476.00" cy="197.10" r="1.15" fill="#1a1aff"/>
<circle cx="476.00" cy="198.80" r="1.15" fill="#1a1aff"/>
<circle cx="482.40" cy="189.30" r="1.15" fill="#1a1aff"/>
<circle cx="482.40" cy="191.00" r="1.15" fill="#1a1aff"/>
<circle cx="482.40" cy="192.70" r="1.15" fill="#1a1aff"/>
<circle cx="482.40" cy="194.40" r="1.15" fill="#1a1aff"/>
<circle cx="482.40" cy="196.10" r="1.15" fill="#1a1aff"/>
<circle cx="482.40" cy="197.80" r="1.15" fill="#1a1aff"/>
<circle cx="489.20" cy="188.30" r="1.15" fill="#1a1aff"/>
<circle cx="489.20" cy="190.00" r="1.15" fill="#1a1aff"/>
<circle cx="489.20" cy="191.70" r="1.15" fill="#1a1aff"/>
<circle cx="489.20" cy="193.40" r="1.15" fill="#1a1aff"/>
<circle cx="489.20" cy="195.10" r="1.15" fill="#1a1aff"/>
<circle cx="489.20" cy="196.80" r="1.15" fill="#1a1aff"/>
<circle cx="495.80" cy="187.30" r="1.15" fill="#1a1aff"/>
<circle cx="495.80" cy="189.00" r="1.15" fill="#1a1aff"/>
<circle cx="495.80" cy="190.70" r="1.15" fill="#1a1aff"/>
<circle cx="495.80" cy="192.40" r="1.15" fill="#1a1aff"/>
<circle cx="495.80" cy="194.10" r="1.15" fill="#1a1aff"/>
<circle cx="495.80" cy="195.80" r="1.15" fill="#1a1aff"/>
<circle cx="502.50" cy="186.30" r="1.15" fill="#1a1aff"/>
<circle cx="502.50" cy="188.00" r="1.15" fill="#1a1aff"/>
<circle cx="502.50" cy="189.70" r="1.15" fill="#1a1aff"/>
<circle cx="502.50" cy="191.40" r="1.15" fill="#1a1aff"/>
<circle cx="502.50" cy="193.10" r="1.15" fill="#1a1aff"/>
<circle cx="502.50" cy="194.80" r="1.15" fill="#1a1aff"/>
<path d="M512,137.9 L554,136.9" stroke="#1a1aff" stroke-width="2.3" fill="none" />
<rect x="512.5" y="141.6" width="41.5" height="5.8" fill="#1a1aff" rx="1"/>
<rect x="513.2" y="142.2" width="40" height="4.6" fill="url(#spk)" opacity="0.6"/>
<path d="M505,149.3 L509,149.3 L510.5,151 L512,148.5" stroke="#1a1aff" stroke-width="2.0" fill="none" />
<path d="M554.5,124.5 L554.5,131.5" stroke="#1a1aff" stroke-width="2.2" fill="none" />
<path d="M508.50,184.90 L512.00,186.85 L518.00,189.68 L526.00,193.18 L534.00,196.52 L542.00,199.76 L550.00,202.91 L554.60,204.70 L554.60,213.50 L550.00,211.83 L542.00,208.90 L534.00,205.93 L526.00,202.91 L518.00,199.82 L512.00,197.42 L508.50,195.90 Z" fill="#1a1aff"/>
<path d="M508.50,184.90 L512.00,186.85 L518.00,189.68 L526.00,193.18 L534.00,196.52 L542.00,199.76 L550.00,202.91 L554.60,204.70 L554.60,213.50 L550.00,211.83 L542.00,208.90 L534.00,205.93 L526.00,202.91 L518.00,199.82 L512.00,197.42 L508.50,195.90 Z" fill="url(#spk)" opacity="0.45"/>
<path d="M508.50,187.65 L512.00,189.49 L518.00,192.22 L526.00,195.61 L534.00,198.87 L542.00,202.04 L550.00,205.14 L554.60,206.90" stroke="rgba(190,190,255,0.75)" stroke-width="0.55" fill="none" />
<path d="M508.50,190.40 L512.00,192.13 L518.00,194.75 L526.00,198.05 L534.00,201.22 L542.00,204.33 L550.00,207.37 L554.60,209.10" stroke="rgba(190,190,255,0.75)" stroke-width="0.55" fill="none" />
<path d="M508.50,193.15 L512.00,194.78 L518.00,197.29 L526.00,200.48 L534.00,203.58 L542.00,206.61 L550.00,209.60 L554.60,211.30" stroke="rgba(190,190,255,0.75)" stroke-width="0.55" fill="none" />
<path d="M555.5,149.8 L617,149.8" stroke="#1a1aff" stroke-width="2.3" fill="none" />
<circle cx="565.10" cy="138.20" r="1.3" fill="#1a1aff"/>
<line x1="565.10" y1="140.00" x2="565.10" y2="149.50" stroke="#1a1aff" stroke-width="1.6" />
<circle cx="575.40" cy="138.20" r="1.3" fill="#1a1aff"/>
<line x1="575.40" y1="140.00" x2="575.40" y2="149.50" stroke="#1a1aff" stroke-width="1.6" />
<circle cx="585.60" cy="138.20" r="1.3" fill="#1a1aff"/>
<line x1="585.60" y1="140.00" x2="585.60" y2="149.50" stroke="#1a1aff" stroke-width="1.6" />
<circle cx="595.80" cy="138.20" r="1.3" fill="#1a1aff"/>
<line x1="595.80" y1="140.00" x2="595.80" y2="149.50" stroke="#1a1aff" stroke-width="1.6" />
<circle cx="606.30" cy="138.20" r="1.3" fill="#1a1aff"/>
<line x1="606.30" y1="140.00" x2="606.30" y2="149.50" stroke="#1a1aff" stroke-width="1.6" />
<path d="M616.4,125.3 L616.4,138.7" stroke="#1a1aff" stroke-width="2.2" fill="none" />
<circle cx="565.10" cy="195.60" r="1.15" fill="#1a1aff"/>
<circle cx="565.10" cy="197.30" r="1.15" fill="#1a1aff"/>
<circle cx="565.10" cy="199.00" r="1.15" fill="#1a1aff"/>
<circle cx="565.10" cy="200.70" r="1.15" fill="#1a1aff"/>
<circle cx="565.10" cy="202.40" r="1.15" fill="#1a1aff"/>
<circle cx="565.10" cy="204.10" r="1.15" fill="#1a1aff"/>
<circle cx="575.00" cy="192.60" r="1.15" fill="#1a1aff"/>
<circle cx="575.00" cy="194.30" r="1.15" fill="#1a1aff"/>
<circle cx="575.00" cy="196.00" r="1.15" fill="#1a1aff"/>
<circle cx="575.00" cy="197.70" r="1.15" fill="#1a1aff"/>
<circle cx="575.00" cy="199.40" r="1.15" fill="#1a1aff"/>
<circle cx="575.00" cy="201.10" r="1.15" fill="#1a1aff"/>
<circle cx="585.00" cy="190.70" r="1.15" fill="#1a1aff"/>
<circle cx="585.00" cy="192.40" r="1.15" fill="#1a1aff"/>
<circle cx="585.00" cy="194.10" r="1.15" fill="#1a1aff"/>
<circle cx="585.00" cy="195.80" r="1.15" fill="#1a1aff"/>
<circle cx="585.00" cy="197.50" r="1.15" fill="#1a1aff"/>
<circle cx="585.00" cy="199.20" r="1.15" fill="#1a1aff"/>
<circle cx="595.50" cy="188.60" r="1.15" fill="#1a1aff"/>
<circle cx="595.50" cy="190.30" r="1.15" fill="#1a1aff"/>
<circle cx="595.50" cy="192.00" r="1.15" fill="#1a1aff"/>
<circle cx="595.50" cy="193.70" r="1.15" fill="#1a1aff"/>
<circle cx="595.50" cy="195.40" r="1.15" fill="#1a1aff"/>
<circle cx="595.50" cy="197.10" r="1.15" fill="#1a1aff"/>
<circle cx="605.60" cy="187.60" r="1.15" fill="#1a1aff"/>
<circle cx="605.60" cy="189.30" r="1.15" fill="#1a1aff"/>
<circle cx="605.60" cy="191.00" r="1.15" fill="#1a1aff"/>
<circle cx="605.60" cy="192.70" r="1.15" fill="#1a1aff"/>
<circle cx="605.60" cy="194.40" r="1.15" fill="#1a1aff"/>
<circle cx="605.60" cy="196.10" r="1.15" fill="#1a1aff"/>
<circle cx="615.50" cy="186.60" r="1.15" fill="#1a1aff"/>
<circle cx="615.50" cy="188.30" r="1.15" fill="#1a1aff"/>
<circle cx="615.50" cy="190.00" r="1.15" fill="#1a1aff"/>
<circle cx="615.50" cy="191.70" r="1.15" fill="#1a1aff"/>
<circle cx="615.50" cy="193.40" r="1.15" fill="#1a1aff"/>
<circle cx="615.50" cy="195.10" r="1.15" fill="#1a1aff"/>
<circle cx="620.50" cy="138.20" r="1.0" fill="#1a1aff"/>
<circle cx="623.00" cy="138.20" r="1.0" fill="#1a1aff"/>
<circle cx="625.50" cy="138.20" r="1.0" fill="#1a1aff"/>
<circle cx="628.00" cy="138.20" r="1.0" fill="#1a1aff"/>
<circle cx="630.50" cy="138.20" r="1.0" fill="#1a1aff"/>
<circle cx="633.00" cy="138.20" r="1.0" fill="#1a1aff"/>
<circle cx="635.50" cy="138.20" r="1.0" fill="#1a1aff"/>
<circle cx="638.00" cy="138.20" r="1.0" fill="#1a1aff"/>
<circle cx="640.50" cy="138.20" r="1.0" fill="#1a1aff"/>
<circle cx="643.00" cy="138.20" r="1.0" fill="#1a1aff"/>
<rect x="619.6" y="142.8" width="24.4" height="7.2" fill="#1a1aff"/>
<rect x="620.2" y="143.4" width="23.2" height="6.0" fill="url(#spk)" opacity="0.8"/>
<path d="M619.10,186.80 L644.70,191.50 L644.70,202.40 L619.10,197.10 Z" fill="#1a1aff"/>
<path d="M619.10,186.80 L644.70,191.50 L644.70,202.40 L619.10,197.10 Z" fill="url(#spk)" opacity="0.45"/>
<path d="M619.10,189.38 L644.70,194.22" stroke="rgba(190,190,255,0.75)" stroke-width="0.55" fill="none" />
<path d="M619.10,191.95 L644.70,196.95" stroke="rgba(190,190,255,0.75)" stroke-width="0.55" fill="none" />
<path d="M619.10,194.53 L644.70,199.68" stroke="rgba(190,190,255,0.75)" stroke-width="0.55" fill="none" />
<path d="M643.6,123.5 L643.6,134 Q646,137 652,137.8 Q662,138.6 672,140.3" stroke="#1a1aff" stroke-width="2.4" fill="none" />
<line x1="382.90" y1="180.10" x2="429.75" y2="210.16" stroke="#111" stroke-width="1.6" />
<path d="M434.80,213.40 L427.42,211.93 L430.39,207.31 Z" fill="#111"/>
<line x1="439.80" y1="214.00" x2="467.16" y2="207.49" stroke="#f7931e" stroke-width="1.6" />
<path d="M473.00,206.10 L466.83,210.40 L465.55,205.05 Z" fill="#f7931e"/>
<line x1="475.40" y1="204.10" x2="501.10" y2="199.38" stroke="#111" stroke-width="1.6" />
<path d="M507.00,198.30 L500.61,202.27 L499.62,196.86 Z" fill="#111"/>
<line x1="509.70" y1="197.10" x2="546.25" y2="213.89" stroke="#111" stroke-width="1.6" />
<path d="M551.70,216.40 L544.19,215.98 L546.49,210.98 Z" fill="#111"/>
<line x1="561.00" y1="209.60" x2="606.29" y2="201.64" stroke="#111" stroke-width="1.6" />
<path d="M612.20,200.60 L605.78,204.52 L604.83,199.10 Z" fill="#111"/>
<line x1="615.60" y1="199.50" x2="641.92" y2="206.80" stroke="#f7931e" stroke-width="1.6" />
<path d="M647.70,208.40 L640.22,209.18 L641.69,203.88 Z" fill="#f7931e"/>
<circle cx="414.0" cy="167.8" r="6.6" fill="none" stroke="#1c1c9c" stroke-width="1.25"/>
<text x="410.24" y="172.10" font-family='"Liberation Sans", sans-serif' font-size="12.90" font-weight="bold" font-style="normal" fill="#1c1c9c">1</text>
<circle cx="455.3" cy="171.70000000000002" r="6.6" fill="none" stroke="#1c1c9c" stroke-width="1.25"/>
<text x="451.85" y="176.00" font-family='"Liberation Sans", sans-serif' font-size="12.71" font-weight="bold" font-style="normal" fill="#1c1c9c">2</text>
<circle cx="489.2" cy="170.20000000000002" r="6.6" fill="none" stroke="#1c1c9c" stroke-width="1.25"/>
<text x="485.83" y="174.37" font-family='"Liberation Sans", sans-serif' font-size="12.54" font-weight="bold" font-style="normal" fill="#1c1c9c">3</text>
<circle cx="533.0" cy="172.5" r="6.6" fill="none" stroke="#1c1c9c" stroke-width="1.25"/>
<text x="529.41" y="176.80" font-family='"Liberation Sans", sans-serif' font-size="12.90" font-weight="bold" font-style="normal" fill="#1c1c9c">4</text>
<circle cx="586.4" cy="171.4" r="6.6" fill="none" stroke="#1c1c9c" stroke-width="1.25"/>
<text x="582.89" y="175.57" font-family='"Liberation Sans", sans-serif' font-size="12.71" font-weight="bold" font-style="normal" fill="#1c1c9c">5</text>
<circle cx="630.2" cy="171.70000000000002" r="6.6" fill="none" stroke="#1c1c9c" stroke-width="1.25"/>
<text x="626.77" y="175.87" font-family='"Liberation Sans", sans-serif' font-size="12.54" font-weight="bold" font-style="normal" fill="#1c1c9c">6</text>
<text x="-0.43" y="285.10" font-family='"Liberation Serif", serif' font-size="25.60" font-weight="normal" font-style="normal" fill="#111" textLength="27.86" lengthAdjust="spacingAndGlyphs">(c)</text>
<line x1="47.30" y1="473.10" x2="51.60" y2="473.10" stroke="#222" stroke-width="1.3" />
<line x1="47.30" y1="455.34" x2="49.60" y2="455.34" stroke="#222" stroke-width="1.3" />
<line x1="47.30" y1="437.58" x2="51.60" y2="437.58" stroke="#222" stroke-width="1.3" />
<line x1="47.30" y1="419.82" x2="49.60" y2="419.82" stroke="#222" stroke-width="1.3" />
<line x1="47.30" y1="402.06" x2="51.60" y2="402.06" stroke="#222" stroke-width="1.3" />
<line x1="47.30" y1="384.30" x2="49.60" y2="384.30" stroke="#222" stroke-width="1.3" />
<line x1="47.30" y1="366.54" x2="51.60" y2="366.54" stroke="#222" stroke-width="1.3" />
<line x1="47.30" y1="348.78" x2="49.60" y2="348.78" stroke="#222" stroke-width="1.3" />
<line x1="47.30" y1="331.02" x2="51.60" y2="331.02" stroke="#222" stroke-width="1.3" />
<line x1="47.30" y1="313.26" x2="49.60" y2="313.26" stroke="#222" stroke-width="1.3" />
<line x1="47.30" y1="295.50" x2="51.60" y2="295.50" stroke="#222" stroke-width="1.3" />
<text x="27.78" y="299.47" font-family='"Liberation Sans", sans-serif' font-size="13.11" font-weight="bold" font-style="normal" fill="#111">18</text>
<text x="27.71" y="335.57" font-family='"Liberation Sans", sans-serif' font-size="13.38" font-weight="bold" font-style="normal" fill="#111" textLength="14.58" lengthAdjust="spacingAndGlyphs">16</text>
<text x="27.32" y="371.29" font-family='"Liberation Sans", sans-serif' font-size="13.44" font-weight="bold" font-style="normal" fill="#111">14</text>
<text x="27.49" y="407.00" font-family='"Liberation Sans", sans-serif' font-size="13.71" font-weight="bold" font-style="normal" fill="#111" textLength="15.09" lengthAdjust="spacingAndGlyphs">12</text>
<text x="27.49" y="442.26" font-family='"Liberation Sans", sans-serif' font-size="13.52" font-weight="bold" font-style="normal" fill="#111">10</text>
<text x="35.00" y="477.86" font-family='"Liberation Sans", sans-serif' font-size="13.52" font-weight="bold" font-style="normal" fill="#111" textLength="7.42" lengthAdjust="spacingAndGlyphs">8</text>
<line x1="67.45" y1="473.00" x2="67.45" y2="470.70" stroke="#222" stroke-width="1.1" />
<line x1="79.53" y1="473.00" x2="79.53" y2="470.70" stroke="#222" stroke-width="1.1" />
<line x1="88.10" y1="473.00" x2="88.10" y2="470.70" stroke="#222" stroke-width="1.1" />
<line x1="94.75" y1="473.00" x2="94.75" y2="470.70" stroke="#222" stroke-width="1.1" />
<line x1="100.18" y1="473.00" x2="100.18" y2="470.70" stroke="#222" stroke-width="1.1" />
<line x1="104.77" y1="473.00" x2="104.77" y2="470.70" stroke="#222" stroke-width="1.1" />
<line x1="108.75" y1="473.00" x2="108.75" y2="470.70" stroke="#222" stroke-width="1.1" />
<line x1="112.26" y1="473.00" x2="112.26" y2="470.70" stroke="#222" stroke-width="1.1" />
<line x1="115.40" y1="473.00" x2="115.40" y2="468.70" stroke="#222" stroke-width="1.1" />
<line x1="136.05" y1="473.00" x2="136.05" y2="470.70" stroke="#222" stroke-width="1.1" />
<line x1="148.13" y1="473.00" x2="148.13" y2="470.70" stroke="#222" stroke-width="1.1" />
<line x1="156.70" y1="473.00" x2="156.70" y2="470.70" stroke="#222" stroke-width="1.1" />
<line x1="163.35" y1="473.00" x2="163.35" y2="470.70" stroke="#222" stroke-width="1.1" />
<line x1="168.78" y1="473.00" x2="168.78" y2="470.70" stroke="#222" stroke-width="1.1" />
<line x1="173.37" y1="473.00" x2="173.37" y2="470.70" stroke="#222" stroke-width="1.1" />
<line x1="177.35" y1="473.00" x2="177.35" y2="470.70" stroke="#222" stroke-width="1.1" />
<line x1="180.86" y1="473.00" x2="180.86" y2="470.70" stroke="#222" stroke-width="1.1" />
<line x1="184.00" y1="473.00" x2="184.00" y2="468.70" stroke="#222" stroke-width="1.1" />
<line x1="204.65" y1="473.00" x2="204.65" y2="470.70" stroke="#222" stroke-width="1.1" />
<line x1="216.73" y1="473.00" x2="216.73" y2="470.70" stroke="#222" stroke-width="1.1" />
<line x1="225.30" y1="473.00" x2="225.30" y2="470.70" stroke="#222" stroke-width="1.1" />
<line x1="231.95" y1="473.00" x2="231.95" y2="470.70" stroke="#222" stroke-width="1.1" />
<line x1="237.38" y1="473.00" x2="237.38" y2="470.70" stroke="#222" stroke-width="1.1" />
<line x1="241.97" y1="473.00" x2="241.97" y2="470.70" stroke="#222" stroke-width="1.1" />
<line x1="245.95" y1="473.00" x2="245.95" y2="470.70" stroke="#222" stroke-width="1.1" />
<line x1="249.46" y1="473.00" x2="249.46" y2="470.70" stroke="#222" stroke-width="1.1" />
<line x1="252.60" y1="473.00" x2="252.60" y2="468.70" stroke="#222" stroke-width="1.1" />
<line x1="273.25" y1="473.00" x2="273.25" y2="470.70" stroke="#222" stroke-width="1.1" />
<line x1="285.33" y1="473.00" x2="285.33" y2="470.70" stroke="#222" stroke-width="1.1" />
<line x1="293.90" y1="473.00" x2="293.90" y2="470.70" stroke="#222" stroke-width="1.1" />
<text x="36.79" y="488.57" font-family='"Liberation Sans", sans-serif' font-size="13.53" font-weight="bold" font-style="normal" fill="#111">0.1</text>
<text x="111.62" y="488.90" font-family='"Liberation Sans", sans-serif' font-size="14.49" font-weight="bold" font-style="normal" fill="#111">1</text>
<text x="175.89" y="488.94" font-family='"Liberation Sans", sans-serif' font-size="14.62" font-weight="bold" font-style="normal" fill="#111">10</text>
<text x="240.98" y="488.86" font-family='"Liberation Sans", sans-serif' font-size="14.39" font-weight="bold" font-style="normal" fill="#111">100</text>
<text x="129.72" y="505.75" font-family='"Liberation Sans", sans-serif' font-size="13.60" font-weight="bold" font-style="normal" fill="#111">Frequency (Hz)</text>
<text x="0" y="0" transform="translate(16.78,440.88) rotate(-90)" font-family='"Liberation Sans", sans-serif' font-size="13.90" font-weight="bold" font-style="normal" fill="#111" textLength="115.61" lengthAdjust="spacingAndGlyphs">EPSC Change (%)</text>
<line x1="48.30" y1="437.70" x2="300.30" y2="437.70" stroke="#111" stroke-width="1.5" stroke-dasharray="6.5,4.2"/>
<rect x="47.30" y="286.90" width="254.00" height="186.10" fill="none" stroke="#222" stroke-width="1.9" />
<line x1="46.80" y1="437.70" x2="115.40" y2="423.70" stroke="#111" stroke-width="0.8" stroke-dasharray="1,1"/>
<line x1="46.80" y1="437.70" x2="115.40" y2="456.10" stroke="#ff2020" stroke-width="0.8" stroke-dasharray="1,1"/>
<line x1="46.80" y1="437.70" x2="115.40" y2="458.50" stroke="#10dd10" stroke-width="0.8" stroke-dasharray="1,1"/>
<path d="M115.40,458.50 L136.05,456.70 L168.78,410.20 L177.35,399.80 L189.43,390.70 L216.73,372.60 L231.95,363.30 L237.38,364.70 L258.03,355.30" stroke="#10e010" stroke-width="2.0" fill="none" />
<path d="M115.40,456.10 L136.05,414.80 L168.78,377.30 L189.43,352.20 L231.95,325.70 L237.38,323.40 L258.03,316.50" stroke="#ff1a1a" stroke-width="2.0" fill="none" />
<path d="M115.40,423.70 L136.05,402.60 L168.78,363.90 L177.35,349.70 L189.43,333.50 L216.73,315.00 L231.95,308.10 L237.38,309.60 L258.03,302.20" stroke="#111" stroke-width="2.0" fill="none" />
<circle cx="47.30" cy="437.70" r="1.8" fill="url(#gk)"/>
<circle cx="47.30" cy="437.70" r="1.6" fill="url(#gg)"/>
<circle cx="115.40" cy="458.50" r="3.9" fill="url(#gg)"/>
<circle cx="136.05" cy="456.70" r="3.9" fill="url(#gg)"/>
<circle cx="168.78" cy="410.20" r="3.9" fill="url(#gg)"/>
<circle cx="177.35" cy="399.80" r="3.9" fill="url(#gg)"/>
<circle cx="189.43" cy="390.70" r="3.9" fill="url(#gg)"/>
<circle cx="216.73" cy="372.60" r="3.9" fill="url(#gg)"/>
<circle cx="231.95" cy="363.30" r="3.9" fill="url(#gg)"/>
<circle cx="237.38" cy="364.70" r="3.9" fill="url(#gg)"/>
<circle cx="258.03" cy="355.30" r="3.9" fill="url(#gg)"/>
<circle cx="115.40" cy="456.10" r="3.9" fill="url(#gr)"/>
<circle cx="136.05" cy="414.80" r="3.9" fill="url(#gr)"/>
<circle cx="168.78" cy="377.30" r="3.9" fill="url(#gr)"/>
<circle cx="189.43" cy="352.20" r="3.9" fill="url(#gr)"/>
<circle cx="231.95" cy="325.70" r="3.9" fill="url(#gr)"/>
<circle cx="237.38" cy="323.40" r="3.9" fill="url(#gr)"/>
<circle cx="258.03" cy="316.50" r="3.9" fill="url(#gr)"/>
<circle cx="115.40" cy="423.70" r="3.9" fill="url(#gk)"/>
<circle cx="136.05" cy="402.60" r="3.9" fill="url(#gk)"/>
<circle cx="168.78" cy="363.90" r="3.9" fill="url(#gk)"/>
<circle cx="177.35" cy="349.70" r="3.9" fill="url(#gk)"/>
<circle cx="189.43" cy="333.50" r="3.9" fill="url(#gk)"/>
<circle cx="216.73" cy="315.00" r="3.9" fill="url(#gk)"/>
<circle cx="231.95" cy="308.10" r="3.9" fill="url(#gk)"/>
<circle cx="237.38" cy="309.60" r="3.9" fill="url(#gk)"/>
<circle cx="258.03" cy="302.20" r="3.9" fill="url(#gk)"/>
<line x1="59.50" y1="306.40" x2="64.30" y2="306.40" stroke="#111" stroke-width="1.8" />
<line x1="74.10" y1="306.40" x2="78.70" y2="306.40" stroke="#111" stroke-width="1.8" />
<circle cx="69.20" cy="306.40" r="3.8" fill="url(#gk)"/>
<text x="81.56" y="310.10" font-family='"Liberation Sans", sans-serif' font-size="11.44" font-weight="bold" font-style="normal" fill="#111">Pre-Spiking 1Hz</text>
<line x1="59.50" y1="321.00" x2="64.30" y2="321.00" stroke="#ff1a1a" stroke-width="1.8" />
<line x1="74.10" y1="321.00" x2="78.70" y2="321.00" stroke="#ff1a1a" stroke-width="1.8" />
<circle cx="69.20" cy="321.00" r="3.8" fill="url(#gr)"/>
<text x="81.56" y="324.70" font-family='"Liberation Sans", sans-serif' font-size="11.44" font-weight="bold" font-style="normal" fill="#111">Pre-Spiking 2Hz</text>
<line x1="59.50" y1="334.80" x2="64.30" y2="334.80" stroke="#10e010" stroke-width="1.8" />
<line x1="74.10" y1="334.80" x2="78.70" y2="334.80" stroke="#10e010" stroke-width="1.8" />
<circle cx="69.20" cy="334.80" r="3.8" fill="url(#gg)"/>
<text x="81.56" y="338.50" font-family='"Liberation Sans", sans-serif' font-size="11.44" font-weight="bold" font-style="normal" fill="#111">Pre-Spiking 6Hz</text>
<text x="321.46" y="285.02" font-family='"Liberation Serif", serif' font-size="25.49" font-weight="normal" font-style="normal" fill="#111" textLength="29.48" lengthAdjust="spacingAndGlyphs">(d)</text>
<line x1="379.00" y1="458.30" x2="383.30" y2="458.30" stroke="#222" stroke-width="1.3" />
<line x1="379.00" y1="446.05" x2="381.50" y2="446.05" stroke="#222" stroke-width="1.3" />
<line x1="379.00" y1="433.80" x2="383.30" y2="433.80" stroke="#222" stroke-width="1.3" />
<line x1="379.00" y1="421.55" x2="381.50" y2="421.55" stroke="#222" stroke-width="1.3" />
<line x1="379.00" y1="409.30" x2="383.30" y2="409.30" stroke="#222" stroke-width="1.3" />
<line x1="379.00" y1="397.05" x2="381.50" y2="397.05" stroke="#222" stroke-width="1.3" />
<line x1="379.00" y1="384.80" x2="383.30" y2="384.80" stroke="#222" stroke-width="1.3" />
<line x1="379.00" y1="372.55" x2="381.50" y2="372.55" stroke="#222" stroke-width="1.3" />
<line x1="379.00" y1="360.30" x2="383.30" y2="360.30" stroke="#222" stroke-width="1.3" />
<line x1="379.00" y1="348.05" x2="381.50" y2="348.05" stroke="#222" stroke-width="1.3" />
<line x1="379.00" y1="335.80" x2="383.30" y2="335.80" stroke="#222" stroke-width="1.3" />
<line x1="379.00" y1="323.55" x2="381.50" y2="323.55" stroke="#222" stroke-width="1.3" />
<line x1="379.00" y1="311.30" x2="383.30" y2="311.30" stroke="#222" stroke-width="1.3" />
<line x1="379.00" y1="299.05" x2="381.50" y2="299.05" stroke="#222" stroke-width="1.3" />
<line x1="379.00" y1="286.80" x2="383.30" y2="286.80" stroke="#222" stroke-width="1.3" />
<text x="353.02" y="290.17" font-family='"Liberation Sans", sans-serif' font-size="13.38" font-weight="bold" font-style="normal" fill="#111" textLength="21.75" lengthAdjust="spacingAndGlyphs">100</text>
<text x="360.24" y="462.81" font-family='"Liberation Sans", sans-serif' font-size="13.08" font-weight="bold" font-style="normal" fill="#111">30</text>
<text x="360.34" y="438.29" font-family='"Liberation Sans", sans-serif' font-size="13.02" font-weight="bold" font-style="normal" fill="#111">40</text>
<text x="360.19" y="413.82" font-family='"Liberation Sans", sans-serif' font-size="13.11" font-weight="bold" font-style="normal" fill="#111">50</text>
<text x="360.14" y="389.33" font-family='"Liberation Sans", sans-serif' font-size="13.14" font-weight="bold" font-style="normal" fill="#111">60</text>
<text x="360.09" y="364.84" font-family='"Liberation Sans", sans-serif' font-size="13.17" font-weight="bold" font-style="normal" fill="#111">70</text>
<text x="360.19" y="340.32" font-family='"Liberation Sans", sans-serif' font-size="13.11" font-weight="bold" font-style="normal" fill="#111">80</text>
<text x="360.14" y="315.83" font-family='"Liberation Sans", sans-serif' font-size="13.14" font-weight="bold" font-style="normal" fill="#111">90</text>
<text x="0" y="0" transform="translate(350.71,445.64) rotate(-90)" font-family='"Liberation Sans", sans-serif' font-size="13.26" font-weight="bold" font-style="normal" fill="#111" textLength="145.88" lengthAdjust="spacingAndGlyphs">EPSC Change Ratio (%)</text>
<line x1="453.40" y1="286.90" x2="453.40" y2="470.90" stroke="#222" stroke-width="1.2" />
<line x1="527.50" y1="286.90" x2="527.50" y2="433.70" stroke="#222" stroke-width="1.2" />
<line x1="527.50" y1="457.30" x2="527.50" y2="470.90" stroke="#222" stroke-width="1.2" />
<line x1="601.70" y1="286.90" x2="601.70" y2="470.90" stroke="#222" stroke-width="1.2" />
<rect x="379.00" y="286.90" width="291.00" height="184.00" fill="none" stroke="#222" stroke-width="1.9" />
<line x1="384.50" y1="470.90" x2="384.50" y2="466.90" stroke="#222" stroke-width="1.2" />
<line x1="399.80" y1="470.90" x2="399.80" y2="468.40" stroke="#222" stroke-width="1.2" />
<line x1="415.10" y1="470.90" x2="415.10" y2="466.90" stroke="#222" stroke-width="1.2" />
<line x1="430.50" y1="470.90" x2="430.50" y2="468.40" stroke="#222" stroke-width="1.2" />
<line x1="445.80" y1="470.90" x2="445.80" y2="466.90" stroke="#222" stroke-width="1.2" />
<line x1="459.20" y1="470.90" x2="459.20" y2="466.90" stroke="#222" stroke-width="1.2" />
<line x1="473.60" y1="470.90" x2="473.60" y2="468.40" stroke="#222" stroke-width="1.2" />
<line x1="488.00" y1="470.90" x2="488.00" y2="466.90" stroke="#222" stroke-width="1.2" />
<line x1="502.40" y1="470.90" x2="502.40" y2="468.40" stroke="#222" stroke-width="1.2" />
<line x1="517.20" y1="470.90" x2="517.20" y2="466.90" stroke="#222" stroke-width="1.2" />
<line x1="533.60" y1="470.90" x2="533.60" y2="466.90" stroke="#222" stroke-width="1.2" />
<line x1="549.00" y1="470.90" x2="549.00" y2="468.40" stroke="#222" stroke-width="1.2" />
<line x1="564.60" y1="470.90" x2="564.60" y2="466.90" stroke="#222" stroke-width="1.2" />
<line x1="580.20" y1="470.90" x2="580.20" y2="468.40" stroke="#222" stroke-width="1.2" />
<line x1="595.80" y1="470.90" x2="595.80" y2="466.90" stroke="#222" stroke-width="1.2" />
<line x1="609.60" y1="470.90" x2="609.60" y2="466.90" stroke="#222" stroke-width="1.2" />
<line x1="622.40" y1="470.90" x2="622.40" y2="468.40" stroke="#222" stroke-width="1.2" />
<line x1="635.20" y1="470.90" x2="635.20" y2="466.90" stroke="#222" stroke-width="1.2" />
<line x1="647.90" y1="470.90" x2="647.90" y2="468.40" stroke="#222" stroke-width="1.2" />
<line x1="660.40" y1="470.90" x2="660.40" y2="466.90" stroke="#222" stroke-width="1.2" />
<text x="380.28" y="485.67" font-family='"Liberation Sans", sans-serif' font-size="13.24" font-weight="bold" font-style="normal" fill="#111" textLength="7.26" lengthAdjust="spacingAndGlyphs">0</text>
<text x="407.97" y="485.67" font-family='"Liberation Sans", sans-serif' font-size="13.24" font-weight="bold" font-style="normal" fill="#111" textLength="14.58" lengthAdjust="spacingAndGlyphs">30</text>
<text x="438.73" y="485.67" font-family='"Liberation Sans", sans-serif' font-size="13.24" font-weight="bold" font-style="normal" fill="#111" textLength="14.94" lengthAdjust="spacingAndGlyphs">60</text>
<text x="454.84" y="485.78" font-family='"Liberation Sans", sans-serif' font-size="13.57" font-weight="bold" font-style="normal" fill="#111">0</text>
<text x="480.49" y="485.67" font-family='"Liberation Sans", sans-serif' font-size="13.24" font-weight="bold" font-style="normal" fill="#111" textLength="15.09" lengthAdjust="spacingAndGlyphs">10</text>
<text x="509.74" y="485.67" font-family='"Liberation Sans", sans-serif' font-size="13.24" font-weight="bold" font-style="normal" fill="#111" textLength="14.51" lengthAdjust="spacingAndGlyphs">20</text>
<text x="529.86" y="485.82" font-family='"Liberation Sans", sans-serif' font-size="13.67" font-weight="bold" font-style="normal" fill="#111">0</text>
<text x="558.07" y="485.42" font-family='"Liberation Sans", sans-serif' font-size="12.71" font-weight="bold" font-style="normal" fill="#111">15</text>
<text x="589.02" y="485.56" font-family='"Liberation Sans", sans-serif' font-size="12.94" font-weight="bold" font-style="normal" fill="#111">30</text>
<text x="606.48" y="485.67" font-family='"Liberation Sans", sans-serif' font-size="13.24" font-weight="bold" font-style="normal" fill="#111" textLength="7.26" lengthAdjust="spacingAndGlyphs">0</text>
<text x="628.05" y="485.56" font-family='"Liberation Sans", sans-serif' font-size="13.10" font-weight="bold" font-style="normal" fill="#111">15</text>
<text x="652.99" y="485.55" font-family='"Liberation Sans", sans-serif' font-size="12.89" font-weight="bold" font-style="normal" fill="#111">30</text>
<text x="393.71" y="500.87" font-family='"Liberation Sans", sans-serif' font-size="12.89" font-weight="bold" font-style="normal" fill="#111">Spike (#)</text>
<text x="463.07" y="500.84" font-family='"Liberation Sans", sans-serif' font-size="12.79" font-weight="bold" font-style="normal" fill="#111">Time (ms)</text>
<text x="537.57" y="500.85" font-family='"Liberation Sans", sans-serif' font-size="12.81" font-weight="bold" font-style="normal" fill="#111">Time (ms)</text>
<text x="608.01" y="500.87" font-family='"Liberation Sans", sans-serif' font-size="12.91" font-weight="bold" font-style="normal" fill="#111">Spike (#)</text>
<rect x="393.00" y="297.30" width="48.20" height="1.60" fill="#f3c23b" stroke="none" stroke-width="1" />
<rect x="398.80" y="297.30" width="6.10" height="9.50" fill="#f3c23b" stroke="none" stroke-width="1" />
<rect x="406.50" y="297.30" width="6.10" height="9.50" fill="#f3c23b" stroke="none" stroke-width="1" />
<rect x="414.10" y="297.30" width="6.20" height="9.50" fill="#f3c23b" stroke="none" stroke-width="1" />
<rect x="421.80" y="297.30" width="6.10" height="9.50" fill="#f3c23b" stroke="none" stroke-width="1" />
<rect x="429.50" y="297.30" width="6.10" height="9.50" fill="#f3c23b" stroke="none" stroke-width="1" />
<rect x="469.40" y="297.50" width="50.50" height="1.60" fill="#f3c23b" stroke="none" stroke-width="1" />
<rect x="475.70" y="297.50" width="6.10" height="10.00" fill="#f3c23b" stroke="none" stroke-width="1" />
<rect x="492.00" y="297.50" width="6.00" height="10.00" fill="#f3c23b" stroke="none" stroke-width="1" />
<rect x="508.20" y="297.50" width="6.10" height="10.00" fill="#f3c23b" stroke="none" stroke-width="1" />
<rect x="542.40" y="297.70" width="51.90" height="1.60" fill="#f3c23b" stroke="none" stroke-width="1" />
<rect x="549.50" y="297.70" width="5.90" height="9.60" fill="#f3c23b" stroke="none" stroke-width="1" />
<rect x="564.80" y="297.70" width="6.60" height="9.60" fill="#f3c23b" stroke="none" stroke-width="1" />
<rect x="581.30" y="297.70" width="6.60" height="9.60" fill="#f3c23b" stroke="none" stroke-width="1" />
<rect x="604.00" y="298.00" width="47.50" height="1.60" fill="#f3c23b" stroke="none" stroke-width="1" />
<rect x="608.50" y="298.00" width="5.70" height="9.00" fill="#f3c23b" stroke="none" stroke-width="1" />
<rect x="616.00" y="298.00" width="5.70" height="9.00" fill="#f3c23b" stroke="none" stroke-width="1" />
<rect x="623.50" y="298.00" width="5.70" height="9.00" fill="#f3c23b" stroke="none" stroke-width="1" />
<rect x="631.00" y="298.00" width="5.70" height="9.00" fill="#f3c23b" stroke="none" stroke-width="1" />
<rect x="638.50" y="298.00" width="5.70" height="9.00" fill="#f3c23b" stroke="none" stroke-width="1" />
<text x="406.69" y="295.66" font-family='"Liberation Sans", sans-serif' font-size="9.00" font-weight="bold" font-style="normal" fill="#2e3192">60Hz</text>
<text x="486.37" y="296.01" font-family='"Liberation Sans", sans-serif' font-size="9.01" font-weight="bold" font-style="normal" fill="#2e3192" textLength="16.54" lengthAdjust="spacingAndGlyphs">6Hz</text>
<text x="559.96" y="295.70" font-family='"Liberation Sans", sans-serif' font-size="9.42" font-weight="bold" font-style="normal" fill="#2e3192" textLength="16.15" lengthAdjust="spacingAndGlyphs">1Hz</text>
<text x="617.09" y="296.19" font-family='"Liberation Sans", sans-serif' font-size="9.25" font-weight="bold" font-style="normal" fill="#2e3192">12Hz</text>
<text x="392.16" y="315.37" font-family='"Liberation Sans", sans-serif' font-size="9.05" font-weight="bold" font-style="italic" fill="#2e3192">HFS</text>
<text x="456.42" y="307.12" font-family='"Liberation Sans", sans-serif' font-size="9.32" font-weight="bold" font-style="italic" fill="#2e3192">LFS</text>
<text x="529.22" y="307.52" font-family='"Liberation Sans", sans-serif' font-size="9.32" font-weight="bold" font-style="italic" fill="#2e3192">LFS</text>
<text x="603.16" y="316.17" font-family='"Liberation Sans", sans-serif' font-size="9.05" font-weight="bold" font-style="italic" fill="#2e3192">HFS</text>
<text x="384.58" y="339.41" font-family='"Liberation Sans", sans-serif' font-size="9.54" font-weight="bold" font-style="normal" fill="#1c1c96">Learning</text>
<text x="463.38" y="318.68" font-family='"Liberation Sans", sans-serif' font-size="9.49" font-weight="bold" font-style="normal" fill="#1c1c96">Forgetting</text>
<text x="616.18" y="386.97" font-family='"Liberation Sans", sans-serif' font-size="9.61" font-weight="bold" font-style="normal" fill="#1c1c96">Learning</text>
<text x="616.18" y="398.92" font-family='"Liberation Sans", sans-serif' font-size="9.55" font-weight="bold" font-style="normal" fill="#1c1c96">Experience</text>
<line x1="398.40" y1="378.90" x2="413.97" y2="349.42" stroke="#1c1c96" stroke-width="1.5" />
<path d="M416.30,345.00 L415.49,351.36 L411.51,349.26 Z" fill="#1c1c96"/>
<line x1="487.40" y1="322.40" x2="576.89" y2="351.35" stroke="#1c1c96" stroke-width="1.5" />
<path d="M582.60,353.20 L575.17,353.42 L576.71,348.67 Z" fill="#1c1c96"/>
<path d="M624.5,373 Q636,342 650.5,325" stroke="#1c1c96" stroke-width="1.5" fill="none" />
<path d="M654.6,319.8 L648.0,324.2 L652.2,327.6 Z" fill="#1c1c96"/>
<circle cx="384.20" cy="458.30" r="3.7" fill="url(#gk)"/>
<circle cx="386.26" cy="449.78" r="3.7" fill="url(#gk)"/>
<circle cx="388.32" cy="442.95" r="3.7" fill="url(#gk)"/>
<circle cx="390.38" cy="436.64" r="3.7" fill="url(#gk)"/>
<circle cx="392.44" cy="430.63" r="3.7" fill="url(#gk)"/>
<circle cx="394.50" cy="424.86" r="3.7" fill="url(#gk)"/>
<circle cx="396.56" cy="419.25" r="3.7" fill="url(#gk)"/>
<circle cx="398.62" cy="413.78" r="3.7" fill="url(#gk)"/>
<circle cx="400.68" cy="408.43" r="3.7" fill="url(#gk)"/>
<circle cx="402.74" cy="403.18" r="3.7" fill="url(#gk)"/>
<circle cx="404.80" cy="398.02" r="3.7" fill="url(#gk)"/>
<circle cx="406.86" cy="392.93" r="3.7" fill="url(#gk)"/>
<circle cx="408.92" cy="387.91" r="3.7" fill="url(#gk)"/>
<circle cx="410.98" cy="382.96" r="3.7" fill="url(#gk)"/>
<circle cx="413.04" cy="378.06" r="3.7" fill="url(#gk)"/>
<circle cx="415.10" cy="373.21" r="3.7" fill="url(#gk)"/>
<circle cx="417.16" cy="368.41" r="3.7" fill="url(#gk)"/>
<circle cx="419.22" cy="363.66" r="3.7" fill="url(#gk)"/>
<circle cx="421.28" cy="358.95" r="3.7" fill="url(#gk)"/>
<circle cx="423.34" cy="354.28" r="3.7" fill="url(#gk)"/>
<circle cx="425.40" cy="349.64" r="3.7" fill="url(#gk)"/>
<circle cx="427.46" cy="345.04" r="3.7" fill="url(#gk)"/>
<circle cx="429.52" cy="340.47" r="3.7" fill="url(#gk)"/>
<circle cx="431.58" cy="335.94" r="3.7" fill="url(#gk)"/>
<circle cx="433.64" cy="331.43" r="3.7" fill="url(#gk)"/>
<circle cx="435.70" cy="326.95" r="3.7" fill="url(#gk)"/>
<circle cx="437.76" cy="322.50" r="3.7" fill="url(#gk)"/>
<circle cx="439.82" cy="318.07" r="3.7" fill="url(#gk)"/>
<circle cx="441.88" cy="313.67" r="3.7" fill="url(#gk)"/>
<circle cx="443.94" cy="309.29" r="3.7" fill="url(#gk)"/>
<circle cx="446.00" cy="304.93" r="3.7" fill="url(#gk)"/>
<circle cx="437.20" cy="372.30" r="3.7" fill="url(#gk)"/>
<text x="426.10" y="388.40" font-family='"Liberation Sans", sans-serif' font-size="10.28" font-weight="normal" font-style="normal" fill="#111" textLength="24.29" lengthAdjust="spacingAndGlyphs" stroke="#111" stroke-width="0.5">N=60</text>
<circle cx="460.10" cy="324.60" r="3.6" fill="url(#gr)"/>
<circle cx="466.80" cy="328.00" r="3.6" fill="url(#gr)"/>
<circle cx="473.90" cy="331.10" r="3.6" fill="url(#gr)"/>
<circle cx="479.80" cy="333.30" r="3.6" fill="url(#gr)"/>
<circle cx="486.70" cy="335.40" r="3.6" fill="url(#gr)"/>
<circle cx="493.30" cy="337.20" r="3.6" fill="url(#gr)"/>
<circle cx="500.00" cy="338.90" r="3.6" fill="url(#gr)"/>
<circle cx="506.10" cy="340.00" r="3.6" fill="url(#gr)"/>
<circle cx="512.70" cy="341.00" r="3.6" fill="url(#gr)"/>
<circle cx="519.40" cy="340.50" r="3.6" fill="url(#gr)"/>
<path d="M460.10,324.60 L460.40,324.76 L460.70,324.92 L460.99,325.08 L461.29,325.24 L461.59,325.40 L461.89,325.55 L462.19,325.71 L462.48,325.86 L462.78,326.02 L463.08,326.17 L463.38,326.32 L463.68,326.47 L463.97,326.62 L464.27,326.77 L464.57,326.92 L464.87,327.06 L465.17,327.21 L465.46,327.35 L465.76,327.50 L466.06,327.64 L466.36,327.78 L466.66,327.93 L466.95,328.07 L467.25,328.21 L467.55,328.34 L467.85,328.48 L468.15,328.62 L468.44,328.75 L468.74,328.89 L469.04,329.02 L469.34,329.16 L469.64,329.29 L469.93,329.42 L470.23,329.55 L470.53,329.68 L470.83,329.81 L471.13,329.94 L471.42,330.06 L471.72,330.19 L472.02,330.32 L472.32,330.44 L472.62,330.56 L472.91,330.69 L473.21,330.81 L473.51,330.93 L473.81,331.05 L474.11,331.17 L474.40,331.29 L474.70,331.41 L475.00,331.52 L475.30,331.64 L475.60,331.75 L475.89,331.87 L476.19,331.98 L476.49,332.09 L476.79,332.21 L477.09,332.32 L477.38,332.43 L477.68,332.54 L477.98,332.64 L478.28,332.75 L478.58,332.86 L478.87,332.97 L479.17,333.07 L479.47,333.18 L479.77,333.28 L480.07,333.38 L480.36,333.49 L480.66,333.59 L480.96,333.69 L481.26,333.79 L481.56,333.89 L481.85,333.99 L482.15,334.08 L482.45,334.18 L482.75,334.28 L483.05,334.37 L483.34,334.47 L483.64,334.56 L483.94,334.65 L484.24,334.75 L484.54,334.84 L484.83,334.93 L485.13,335.02 L485.43,335.11 L485.73,335.20 L486.03,335.28 L486.32,335.37 L486.62,335.46 L486.92,335.54 L487.22,335.63 L487.52,335.71 L487.81,335.80 L488.11,335.88 L488.41,335.96 L488.71,336.05 L489.01,336.13 L489.30,336.21 L489.60,336.29 L489.90,336.37 L490.20,336.44 L490.49,336.52 L490.79,336.60 L491.09,336.67 L491.39,336.75 L491.69,336.82 L491.98,336.90 L492.28,336.97 L492.58,337.05 L492.88,337.12 L493.18,337.19 L493.47,337.26 L493.77,337.33 L494.07,337.40 L494.37,337.47 L494.67,337.54 L494.96,337.61 L495.26,337.67 L495.56,337.74 L495.86,337.80 L496.16,337.87 L496.45,337.93 L496.75,338.00 L497.05,338.06 L497.35,338.12 L497.65,338.19 L497.94,338.25 L498.24,338.31 L498.54,338.37 L498.84,338.43 L499.14,338.49 L499.43,338.55 L499.73,338.61 L500.03,338.66 L500.33,338.72 L500.63,338.78 L500.92,338.83 L501.22,338.89 L501.52,338.94 L501.82,339.00 L502.12,339.05 L502.41,339.10 L502.71,339.16 L503.01,339.21 L503.31,339.26 L503.61,339.31 L503.90,339.36 L504.20,339.41 L504.50,339.46 L504.80,339.51 L505.10,339.55 L505.39,339.60 L505.69,339.65 L505.99,339.70 L506.29,339.74 L506.59,339.79 L506.88,339.83 L507.18,339.88 L507.48,339.92 L507.78,339.96 L508.08,340.01 L508.37,340.05 L508.67,340.09 L508.97,340.13 L509.27,340.17 L509.57,340.21 L509.86,340.25 L510.16,340.29 L510.46,340.33 L510.76,340.37 L511.06,340.41 L511.35,340.45 L511.65,340.48 L511.95,340.52 L512.25,340.56 L512.55,340.59 L512.84,340.63 L513.14,340.66 L513.44,340.70 L513.74,340.73 L514.04,340.77 L514.33,340.80 L514.63,340.83 L514.93,340.86 L515.23,340.90 L515.53,340.93 L515.82,340.96 L516.12,340.99 L516.42,341.02 L516.72,341.05 L517.02,341.08 L517.31,341.11 L517.61,341.14 L517.91,341.16 L518.21,341.19 L518.51,341.22 L518.80,341.25 L519.10,341.27 L519.40,341.30" stroke="#111" stroke-width="1.3" fill="none" />
<circle cx="474.40" cy="361.20" r="3.7" fill="url(#gr)"/>
<text x="487.09" y="364.60" font-family='"Liberation Sans", sans-serif' font-size="10.42" font-weight="normal" font-style="normal" fill="#111" textLength="24.50" lengthAdjust="spacingAndGlyphs" stroke="#111" stroke-width="0.5">N=10</text>
<line x1="463.40" y1="374.00" x2="485.70" y2="374.00" stroke="#333" stroke-width="1.5" />
<text x="488.42" y="376.77" font-family='"Liberation Sans", sans-serif' font-size="10.56" font-weight="normal" font-style="normal" fill="#111" stroke="#111" stroke-width="0.5">Fitting</text>
<circle cx="534.30" cy="355.10" r="3.6" fill="url(#gg)"/>
<circle cx="546.40" cy="360.10" r="3.6" fill="url(#gg)"/>
<circle cx="558.50" cy="364.30" r="3.6" fill="url(#gg)"/>
<circle cx="570.60" cy="368.50" r="3.6" fill="url(#gg)"/>
<circle cx="582.40" cy="371.10" r="3.6" fill="url(#gg)"/>
<circle cx="594.40" cy="373.50" r="3.6" fill="url(#gg)"/>
<path d="M534.30,355.10 L534.60,355.22 L534.90,355.34 L535.21,355.47 L535.51,355.59 L535.81,355.71 L536.11,355.83 L536.41,355.95 L536.72,356.07 L537.02,356.19 L537.32,356.31 L537.62,356.43 L537.92,356.54 L538.23,356.66 L538.53,356.78 L538.83,356.90 L539.13,357.01 L539.43,357.13 L539.74,357.25 L540.04,357.36 L540.34,357.48 L540.64,357.59 L540.94,357.71 L541.25,357.82 L541.55,357.94 L541.85,358.05 L542.15,358.17 L542.45,358.28 L542.76,358.39 L543.06,358.51 L543.36,358.62 L543.66,358.73 L543.96,358.84 L544.27,358.95 L544.57,359.06 L544.87,359.18 L545.17,359.29 L545.47,359.40 L545.78,359.51 L546.08,359.62 L546.38,359.72 L546.68,359.83 L546.98,359.94 L547.29,360.05 L547.59,360.16 L547.89,360.27 L548.19,360.37 L548.49,360.48 L548.80,360.59 L549.10,360.69 L549.40,360.80 L549.70,360.90 L550.00,361.01 L550.31,361.11 L550.61,361.22 L550.91,361.32 L551.21,361.43 L551.51,361.53 L551.82,361.63 L552.12,361.74 L552.42,361.84 L552.72,361.94 L553.02,362.04 L553.33,362.15 L553.63,362.25 L553.93,362.35 L554.23,362.45 L554.53,362.55 L554.84,362.65 L555.14,362.75 L555.44,362.85 L555.74,362.95 L556.04,363.05 L556.35,363.15 L556.65,363.25 L556.95,363.34 L557.25,363.44 L557.55,363.54 L557.86,363.64 L558.16,363.73 L558.46,363.83 L558.76,363.93 L559.06,364.02 L559.37,364.12 L559.67,364.21 L559.97,364.31 L560.27,364.40 L560.57,364.50 L560.88,364.59 L561.18,364.68 L561.48,364.78 L561.78,364.87 L562.08,364.96 L562.39,365.06 L562.69,365.15 L562.99,365.24 L563.29,365.33 L563.59,365.42 L563.90,365.51 L564.20,365.60 L564.50,365.69 L564.80,365.78 L565.11,365.87 L565.41,365.96 L565.71,366.05 L566.01,366.14 L566.31,366.23 L566.62,366.32 L566.92,366.41 L567.22,366.49 L567.52,366.58 L567.82,366.67 L568.13,366.76 L568.43,366.84 L568.73,366.93 L569.03,367.01 L569.33,367.10 L569.64,367.19 L569.94,367.27 L570.24,367.35 L570.54,367.44 L570.84,367.52 L571.15,367.61 L571.45,367.69 L571.75,367.77 L572.05,367.86 L572.35,367.94 L572.66,368.02 L572.96,368.10 L573.26,368.19 L573.56,368.27 L573.86,368.35 L574.17,368.43 L574.47,368.51 L574.77,368.59 L575.07,368.67 L575.37,368.75 L575.68,368.83 L575.98,368.91 L576.28,368.99 L576.58,369.07 L576.88,369.14 L577.19,369.22 L577.49,369.30 L577.79,369.38 L578.09,369.45 L578.39,369.53 L578.70,369.61 L579.00,369.68 L579.30,369.76 L579.60,369.84 L579.90,369.91 L580.21,369.99 L580.51,370.06 L580.81,370.14 L581.11,370.21 L581.41,370.28 L581.72,370.36 L582.02,370.43 L582.32,370.50 L582.62,370.58 L582.92,370.65 L583.23,370.72 L583.53,370.79 L583.83,370.87 L584.13,370.94 L584.43,371.01 L584.74,371.08 L585.04,371.15 L585.34,371.22 L585.64,371.29 L585.94,371.36 L586.25,371.43 L586.55,371.50 L586.85,371.57 L587.15,371.64 L587.45,371.70 L587.76,371.77 L588.06,371.84 L588.36,371.91 L588.66,371.98 L588.96,372.04 L589.27,372.11 L589.57,372.18 L589.87,372.24 L590.17,372.31 L590.47,372.37 L590.78,372.44 L591.08,372.50 L591.38,372.57 L591.68,372.63 L591.98,372.70 L592.29,372.76 L592.59,372.83 L592.89,372.89 L593.19,372.95 L593.49,373.02 L593.80,373.08 L594.10,373.14 L594.40,373.20" stroke="#111" stroke-width="1.3" fill="none" />
<circle cx="550.20" cy="388.40" r="3.7" fill="url(#gg)"/>
<text x="562.33" y="391.70" font-family='"Liberation Sans", sans-serif' font-size="9.87" font-weight="normal" font-style="normal" fill="#111" stroke="#111" stroke-width="0.5">N=6</text>
<line x1="539.20" y1="401.00" x2="560.20" y2="401.00" stroke="#333" stroke-width="1.5" />
<text x="563.52" y="403.87" font-family='"Liberation Sans", sans-serif' font-size="10.56" font-weight="normal" font-style="normal" fill="#111" stroke="#111" stroke-width="0.5">Fitting</text>
<circle cx="611.00" cy="376.33" r="3.7" fill="url(#gb)"/>
<circle cx="612.69" cy="371.22" r="3.7" fill="url(#gb)"/>
<circle cx="614.39" cy="366.53" r="3.7" fill="url(#gb)"/>
<circle cx="616.08" cy="362.20" r="3.7" fill="url(#gb)"/>
<circle cx="617.77" cy="358.22" r="3.7" fill="url(#gb)"/>
<circle cx="619.47" cy="354.55" r="3.7" fill="url(#gb)"/>
<circle cx="621.16" cy="351.15" r="3.7" fill="url(#gb)"/>
<circle cx="622.85" cy="347.99" r="3.7" fill="url(#gb)"/>
<circle cx="624.54" cy="345.03" r="3.7" fill="url(#gb)"/>
<circle cx="626.24" cy="342.25" r="3.7" fill="url(#gb)"/>
<circle cx="627.93" cy="339.60" r="3.7" fill="url(#gb)"/>
<circle cx="629.62" cy="337.06" r="3.7" fill="url(#gb)"/>
<circle cx="631.32" cy="334.59" r="3.7" fill="url(#gb)"/>
<circle cx="633.01" cy="332.16" r="3.7" fill="url(#gb)"/>
<circle cx="634.70" cy="329.78" r="3.7" fill="url(#gb)"/>
<circle cx="636.40" cy="327.43" r="3.7" fill="url(#gb)"/>
<circle cx="638.09" cy="325.13" r="3.7" fill="url(#gb)"/>
<circle cx="639.78" cy="322.88" r="3.7" fill="url(#gb)"/>
<circle cx="641.48" cy="320.66" r="3.7" fill="url(#gb)"/>
<circle cx="643.17" cy="318.49" r="3.7" fill="url(#gb)"/>
<circle cx="644.86" cy="316.37" r="3.7" fill="url(#gb)"/>
<circle cx="646.56" cy="314.29" r="3.7" fill="url(#gb)"/>
<circle cx="648.25" cy="312.26" r="3.7" fill="url(#gb)"/>
<circle cx="649.94" cy="310.28" r="3.7" fill="url(#gb)"/>
<circle cx="651.63" cy="308.34" r="3.7" fill="url(#gb)"/>
<circle cx="653.33" cy="306.45" r="3.7" fill="url(#gb)"/>
<circle cx="655.02" cy="304.61" r="3.7" fill="url(#gb)"/>
<circle cx="656.71" cy="302.82" r="3.7" fill="url(#gb)"/>
<circle cx="658.41" cy="301.08" r="3.7" fill="url(#gb)"/>
<circle cx="660.10" cy="299.39" r="3.7" fill="url(#gb)"/>
<circle cx="622.90" cy="411.90" r="3.7" fill="url(#gb)"/>
<text x="635.82" y="415.22" font-family='"Liberation Sans", sans-serif' font-size="10.35" font-weight="normal" font-style="normal" fill="#111" stroke="#111" stroke-width="0.5">N=30</text>
<path d="M407.7,430.3 L445.3,430.3 L445.3,447.0 L429.75,447.0 L429.75,449.6 L433.04999999999995,449.6 L426.4,455.9 L419.75,449.6 L423.04999999999995,449.6 L423.04999999999995,447.0 L407.7,447.0 Z" stroke="#333" stroke-width="1.15" fill="#fff" stroke-linejoin="miter"/>
<text x="413.99" y="440.29" font-family='"Liberation Serif", serif' font-size="7.31" font-weight="normal" font-style="italic" fill="#7c7c7c" stroke="#7c7c7c" stroke-width="0.3">V</text>
<text x="418.56" y="443.14" font-family='"Liberation Serif", serif' font-size="4.96" font-weight="normal" font-style="normal" fill="#7c7c7c" stroke="#7c7c7c" stroke-width="0.3">o</text>
<circle cx="422.6" cy="436.2" r="0.95" fill="#333"/>
<text x="428.09" y="440.29" font-family='"Liberation Serif", serif' font-size="7.31" font-weight="normal" font-style="italic" fill="#7c7c7c" stroke="#7c7c7c" stroke-width="0.3">V</text>
<text x="432.66" y="443.14" font-family='"Liberation Serif", serif' font-size="4.96" font-weight="normal" font-style="normal" fill="#7c7c7c" stroke="#7c7c7c" stroke-width="0.3">o</text>
<circle cx="437.0" cy="437.0" r="0.95" fill="#333"/><circle cx="439.3" cy="437.0" r="0.95" fill="#333"/>
<rect x="607.40" y="423.30" width="29.10" height="19.10" fill="#fff" stroke="#333" stroke-width="1.3" />
<text x="609.68" y="432.99" font-family='"Liberation Serif", serif' font-size="7.46" font-weight="normal" font-style="italic" fill="#7c7c7c" stroke="#7c7c7c" stroke-width="0.3">V</text>
<text x="614.38" y="436.17" font-family='"Liberation Serif", serif' font-size="5.07" font-weight="normal" font-style="normal" fill="#7c7c7c" stroke="#7c7c7c" stroke-width="0.3">o</text>
<circle cx="619.6" cy="429.4" r="0.95" fill="#333"/>
<text x="622.98" y="432.99" font-family='"Liberation Serif", serif' font-size="7.46" font-weight="normal" font-style="italic" fill="#7c7c7c" stroke="#7c7c7c" stroke-width="0.3">V</text>
<text x="627.68" y="436.17" font-family='"Liberation Serif", serif' font-size="5.07" font-weight="normal" font-style="normal" fill="#7c7c7c" stroke="#7c7c7c" stroke-width="0.3">o</text>
<circle cx="631.8" cy="429.4" r="0.95" fill="#333"/><circle cx="634.0" cy="429.4" r="0.95" fill="#333"/>
<path d="M491.5,433.7 L563.8,433.7 L563.8,449.8 L530.75,449.8 L530.75,452.40000000000003 L534.05,452.40000000000003 L527.4,457.5 L520.75,452.40000000000003 L524.05,452.40000000000003 L524.05,449.8 L491.5,449.8 Z" stroke="#333" stroke-width="1.15" fill="#fff" stroke-linejoin="miter"/>
<text x="496.12" y="443.38" font-family='"Liberation Serif", serif' font-size="7.94" font-weight="normal" font-style="italic" fill="#7c7c7c" stroke="#7c7c7c" stroke-width="0.3">O</text>
<text x="501.57" y="445.49" font-family='"Liberation Serif", serif' font-size="5.62" font-weight="normal" font-style="normal" fill="#7c7c7c" textLength="2.22" lengthAdjust="spacingAndGlyphs" stroke="#7c7c7c" stroke-width="0.3">s</text>
<line x1="502.00" y1="438.90" x2="504.20" y2="438.90" stroke="#7c7c7c" stroke-width="0.6" />
<text x="507.87" y="443.62" font-family='"Liberation Serif", serif' font-size="8.23" font-weight="normal" font-style="normal" fill="#7c7c7c" stroke="#7c7c7c" stroke-width="0.3">+</text>
<text x="512.30" y="443.43" font-family='"Liberation Serif", serif' font-size="8.22" font-weight="normal" font-style="italic" fill="#7c7c7c" stroke="#7c7c7c" stroke-width="0.3">V</text>
<text x="517.70" y="446.59" font-family='"Liberation Serif", serif' font-size="5.19" font-weight="normal" font-style="normal" fill="#7c7c7c" stroke="#7c7c7c" stroke-width="0.3">o</text>
<circle cx="520.6" cy="439.4" r="0.95" fill="#333"/>
<text x="523.93" y="444.88" font-family='"Liberation Sans", sans-serif' font-size="13.58" font-weight="bold" font-style="normal" fill="#111">;</text>
<text x="529.56" y="443.31" font-family='"Liberation Serif", serif' font-size="7.71" font-weight="normal" font-style="italic" fill="#7c7c7c" stroke="#7c7c7c" stroke-width="0.3">O</text>
<line x1="535.00" y1="439.60" x2="537.20" y2="439.60" stroke="#7c7c7c" stroke-width="0.6" />
<text x="540.77" y="443.62" font-family='"Liberation Serif", serif' font-size="8.23" font-weight="normal" font-style="normal" fill="#7c7c7c" stroke="#7c7c7c" stroke-width="0.3">+</text>
<text x="547.08" y="443.41" font-family='"Liberation Serif", serif' font-size="8.14" font-weight="normal" font-style="italic" fill="#7c7c7c" stroke="#7c7c7c" stroke-width="0.3">V</text>
<text x="552.30" y="446.59" font-family='"Liberation Serif", serif' font-size="5.19" font-weight="normal" font-style="normal" fill="#7c7c7c" stroke="#7c7c7c" stroke-width="0.3">o</text>
<circle cx="556.0" cy="439.4" r="0.95" fill="#333"/><circle cx="558.4" cy="439.4" r="0.95" fill="#333"/>
<text x="391.48" y="465.76" font-family='"Liberation Sans", sans-serif' font-size="9.04" font-weight="bold" font-style="italic" fill="#111">Accumulation</text>
<text x="503.22" y="466.16" font-family='"Liberation Sans", sans-serif' font-size="9.19" font-weight="bold" font-style="italic" fill="#111">Relaxation</text>
<text x="606.42" y="453.98" font-family='"Liberation Sans", sans-serif' font-size="9.08" font-weight="bold" font-style="italic" fill="#111">Further</text>
<text x="606.78" y="466.34" font-family='"Liberation Sans", sans-serif' font-size="9.17" font-weight="bold" font-style="italic" fill="#111">Accumulation</text>
</svg>
</body></html>
